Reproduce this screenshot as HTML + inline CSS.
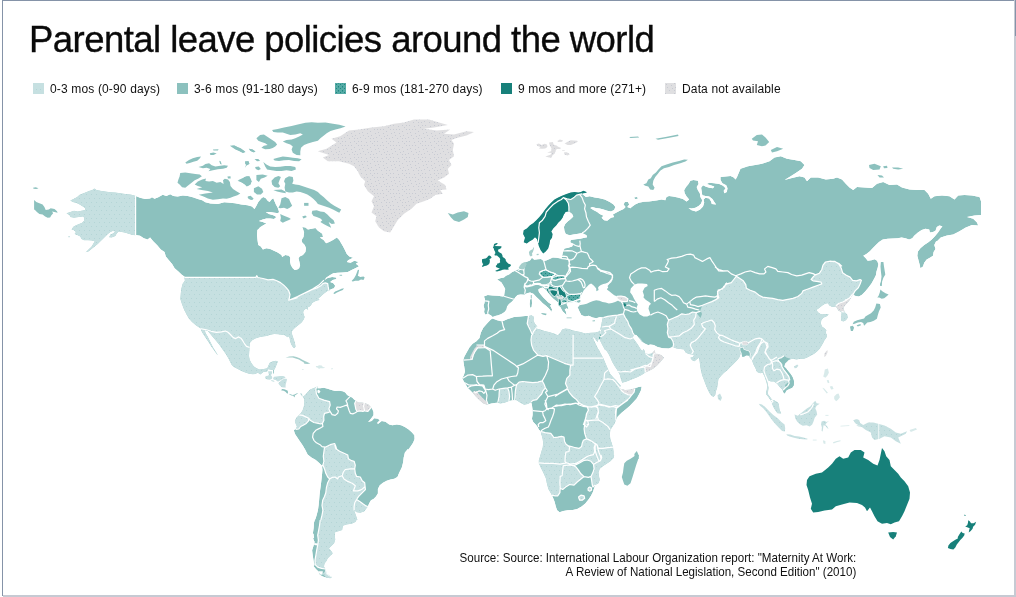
<!DOCTYPE html>
<html><head><meta charset="utf-8"><title>Parental leave policies around the world</title>
<style>
html,body{margin:0;padding:0;background:#fff;}
body{width:1016px;height:597px;position:relative;overflow:hidden;font-family:"Liberation Sans",sans-serif;color:#111;}
.bt{position:absolute;left:2px;top:0;width:1014px;height:1px;background:#8593a8;}
.bl{position:absolute;left:2px;top:0;width:1px;height:596px;background:#8593a8;}
.br{position:absolute;left:1014px;top:0;width:2px;height:597px;background:#c6cad3;}
.br2{position:absolute;left:1015px;top:0;width:1px;height:36px;background:#8593a8;}
.bb{position:absolute;left:3px;top:595px;width:1013px;height:2px;background:#c6cad3;}
h1{position:absolute;left:29px;top:18px;margin:0;font-weight:400;font-size:36.5px;line-height:44px;white-space:nowrap;color:#0a0a0a;letter-spacing:-0.55px;-webkit-text-stroke:0.35px #0a0a0a;}
.lg{position:absolute;top:83px;height:11px;font-size:12px;line-height:11px;white-space:nowrap;color:#111;letter-spacing:0.15px;}
.lg i{position:absolute;left:0;top:0;width:11px;height:11px;display:block;}
.lg span{position:absolute;left:17px;top:1px;}
.src{position:absolute;right:160px;top:551px;text-align:right;font-size:12.4px;line-height:14.3px;white-space:nowrap;color:#111;transform:scaleX(0.935);transform-origin:100% 50%;}
svg{position:absolute;left:0;top:0;}
</style></head><body>
<div class="bt"></div><div class="bl"></div><div class="br"></div><div class="br2"></div><div class="bb"></div>
<h1>Parental leave policies around the world</h1>
<svg width="1016" height="597" viewBox="0 0 1016 597">
<defs>
<pattern id="pd" width="4" height="4" patternUnits="userSpaceOnUse"><rect width="4" height="4" fill="#55aaa5"/><rect x="1" y="1" width="1" height="1" fill="#1f8880"/><rect x="3" y="3" width="1" height="1" fill="#1f8880"/></pattern>
<pattern id="pg" width="16" height="16" patternUnits="userSpaceOnUse"><rect width="16" height="16" fill="#dfdfe1"/><rect x="10" y="4" width="1" height="1" fill="#c8cbd3"/><rect x="12" y="1" width="1" height="1" fill="#c8cbd3"/><rect x="2" y="3" width="1" height="1" fill="#c8cbd3"/><rect x="6" y="1" width="1" height="1" fill="#c8cbd3"/><rect x="2" y="13" width="1" height="1" fill="#c8cbd3"/><rect x="3" y="7" width="1" height="1" fill="#c8cbd3"/><rect x="9" y="13" width="1" height="1" fill="#c8cbd3"/><rect x="13" y="10" width="1" height="1" fill="#c8cbd3"/><rect x="14" y="14" width="1" height="1" fill="#c8cbd3"/><rect x="7" y="5" width="1" height="1" fill="#c8cbd3"/><rect x="5" y="10" width="1" height="1" fill="#c8cbd3"/><rect x="4" y="15" width="1" height="1" fill="#c8cbd3"/><rect x="2" y="10" width="1" height="1" fill="#c8cbd3"/><rect x="15" y="1" width="1" height="1" fill="#c8cbd3"/><rect x="15" y="5" width="1" height="1" fill="#c8cbd3"/><rect x="8" y="9" width="1" height="1" fill="#c8cbd3"/><rect x="11" y="7" width="1" height="1" fill="#c8cbd3"/><rect x="0" y="8" width="1" height="1" fill="#c8cbd3"/><rect x="9" y="1" width="1" height="1" fill="#c8cbd3"/><rect x="6" y="13" width="1" height="1" fill="#c8cbd3"/></pattern>
<pattern id="pd2" x="335" y="83" width="4" height="4" patternUnits="userSpaceOnUse"><rect width="4" height="4" fill="#55aaa5"/><rect x="1" y="1" width="1" height="1" fill="#1f8880"/><rect x="3" y="3" width="1" height="1" fill="#1f8880"/><rect x="3" y="0" width="1" height="1" fill="#379a93"/></pattern>
<pattern id="pl" width="5" height="8" patternUnits="userSpaceOnUse"><rect width="5" height="8" fill="#c6e0e1"/><rect x="1" y="2" width="1" height="1" fill="#b4d5d6"/><rect x="4" y="6" width="1" height="1" fill="#b4d5d6"/></pattern>
</defs>
<clipPath id="c0"><path d="M135.3,195.7 130.5,194.4 125.5,194.1 120.4,193.2 115.4,192.6 110.4,192.3 105.4,191.6 100.3,190.7 96.6,190 94.3,188.5 92.2,190 89,191.1 85.9,192.3 82.8,193.6 79.6,194.8 77.1,197 74,198.8 70.2,200.4 72.7,202 76.5,202.9 79.6,204.5 82.8,206.4 85.3,208.3 85,209.9 81.5,210.8 77.7,211.4 74,210.8 70.2,212 66.4,213.3 69.6,215.2 70.2,217.1 74,217.7 79,217.1 82.8,216.4 84.3,217.7 84,220.8 82.1,222.7 79,224 75.9,225.2 73.3,226.7 71.5,229.6 74,230.2 75.9,232.1 74.6,234 77.7,235.3 80.2,236.5 81.5,239 84,240.3 87.8,240.3 91.6,240.5 94.7,241.3 93.4,243.4 91.6,246.6 89,249.1 86.5,251.4 85.3,252.2 88.4,251.4 91.6,249.1 94.7,246.6 97.8,244.1 100.3,241.6 102.9,239 105.4,236.5 107.9,234 110.4,232.1 112.9,230.9 115.4,231.5 112.9,233.4 110.4,234.6 109.1,237.2 111.7,237.5 115.4,235.9 116.7,233.4 118.6,231.5 121.7,232.1 125.5,232.8 129.2,234 133,235 135.3,235.3 135.7,235 140,235.7 143.8,238.2 147.6,239.4 150.1,237.6 153.2,241.3 157,245.1 160.8,249.5 164.5,252 165.8,256.4 168.9,260.2 172.1,263.9 174.6,268.3 178.4,271.5 181.5,274.6 184.6,276.8 184.4,277.3 184.8,280.7 182.6,283.8 181.3,288.8 180.7,293.9 180.3,298.9 181.9,303.9 183.8,308.9 186.3,314 188.8,318.4 192,322.1 195.8,325.3 199.5,327.8 201.4,329 200.7,328.8 201.9,331.9 203.8,335 206.3,338.8 208.8,342.6 211.3,346.4 213.8,350.1 217,354.5 217.9,355.1 215.7,351.4 213.2,347.6 211.3,343.8 209.4,340.1 207.6,336.3 205.7,333.2 204.8,330.3 207.6,330.7 210.1,333.8 213.2,337.6 216.4,341.3 219.5,345.1 222.6,349.5 225.8,353.9 228.3,358.3 230.2,362.1 231.4,364.6 233.9,367.1 237.7,369 241.5,370.9 245.2,372.5 249,373.7 252.8,374.2 255.3,374 257.8,372.7 260.3,374.6 263.5,372.1 267.2,371.5 268.1,369.2 272.9,370 273.9,370.5 275.4,367.7 276.7,364.6 277.9,361.4 276,360.8 272.3,361.4 269.7,362.7 268.5,365.2 267.2,368.3 263.5,369 259.7,369.6 256.6,368.3 254,366.5 251.5,363.3 249.6,359.5 249,355.8 249.3,351.4 249.6,347.4 249.8,342.9 252.3,340.3 255.4,338.5 259.2,337.2 263,336.6 266.7,335.9 270.5,334.7 274.3,334.1 278,334.3 281.8,334.7 284.9,335.3 287.5,337.2 289.3,335.9 288.6,335.7 289.6,338.2 290.1,341.3 291.1,344.3 292.6,346.8 294.1,348.3 295.6,346.8 295.1,343.8 294.1,340.3 293.1,337.2 292.1,334.2 291.6,331.7 293.1,329.7 295.1,327.7 297.6,325.7 300.2,323.7 302.2,321.7 303.7,319.6 304.7,317.1 303.7,314.6 303.2,312.1 304.2,310.1 306.2,308.6 308.2,310.1 307.7,307.6 309.7,306.6 311.2,305.1 312.2,303.1 314.7,301.6 317.2,300.6 319.7,300.1 318.2,298.5 320.3,297 322.3,295 324.8,293 326.8,291.5 328.8,290 327.1,292.7 328.3,290.8 328.9,291.2 330.8,289.2 334,288.3 335.2,285.8 333.3,283.3 330.2,282 332.7,280.1 336.5,279.1 335.9,277.6 332.1,277 327.7,277.9 324.5,280.1 326.4,277.6 330.2,275.1 333.3,273.2 337.7,272.8 342.8,272.6 347.8,272 351.6,270.1 355.3,268.2 359.1,266.3 355.9,263.8 358.5,261.9 354.4,260.8 350.6,262.7 346.8,262.1 348.1,260.2 353.1,257.7 349.3,256.4 346.8,253.9 344.9,250.1 343.1,246.4 341.2,243.2 339.3,240.1 336.8,237.6 333,240.1 329.2,242 326.1,243.2 323.6,240.1 319.8,237.6 323,236.9 322.3,233.8 317.9,230.7 315.4,228.1 311.7,228.8 307.9,229.4 305.4,227.5 302.2,226.9 302.9,228.8 304.1,232.5 303.5,236.9 301.6,240.1 302.2,242.6 304.7,245.1 306,248.2 305.4,252 302.9,255.1 299.7,256.4 298.5,258.3 299.3,261.4 300.1,265.2 299.1,268.3 297.2,269.6 294.7,270 292.8,268.3 290.9,265.2 290,261.4 290.3,257.7 289,255.8 285.3,255.1 282.1,257 281.5,255.1 277.7,252.6 274,250.8 270.2,248.9 266.4,248.2 262.9,249.5 260.8,246.4 258.3,245.1 257.6,240.7 257,235 257.4,230 258.6,229 260.1,227.2 263.3,225.3 266.4,223.4 262.7,222.1 258.9,220.9 262.7,219.6 266.4,218.4 270.2,218.4 274,219 276.5,217.1 273.3,215.2 268.9,214 265.8,212.1 270.2,212.1 274.6,212.7 278.4,213.3 279,211.5 277.7,207.7 275.9,204.5 274.6,201.4 273.3,198.3 271.5,199.5 269.6,202 267.7,200.8 265.8,198.3 263.3,197 261.4,198.3 258.3,202 256.4,205.8 254.5,208.9 252,206.4 247.6,205.2 241.3,204.5 235,203.3 230,202.7 224.2,202.2 217.9,204.1 210.4,203.5 205.4,202.2 202.2,200.3 197.8,199.1 192.8,197.2 187.8,195.9 182.8,195.6 177.7,196.6 173.3,195.9 170.2,194.3 166.4,195.9 162.7,194.7 158.3,197.2 154.5,198.8 152,197.2 150.1,198.5 145.1,199.1 140,197.8 135.7,195.9Z"/></clipPath>
<g clip-path="url(#c0)">
<path d="M135.3,195.7 130.5,194.4 125.5,194.1 120.4,193.2 115.4,192.6 110.4,192.3 105.4,191.6 100.3,190.7 96.6,190 94.3,188.5 92.2,190 89,191.1 85.9,192.3 82.8,193.6 79.6,194.8 77.1,197 74,198.8 70.2,200.4 72.7,202 76.5,202.9 79.6,204.5 82.8,206.4 85.3,208.3 85,209.9 81.5,210.8 77.7,211.4 74,210.8 70.2,212 66.4,213.3 69.6,215.2 70.2,217.1 74,217.7 79,217.1 82.8,216.4 84.3,217.7 84,220.8 82.1,222.7 79,224 75.9,225.2 73.3,226.7 71.5,229.6 74,230.2 75.9,232.1 74.6,234 77.7,235.3 80.2,236.5 81.5,239 84,240.3 87.8,240.3 91.6,240.5 94.7,241.3 93.4,243.4 91.6,246.6 89,249.1 86.5,251.4 85.3,252.2 88.4,251.4 91.6,249.1 94.7,246.6 97.8,244.1 100.3,241.6 102.9,239 105.4,236.5 107.9,234 110.4,232.1 112.9,230.9 115.4,231.5 112.9,233.4 110.4,234.6 109.1,237.2 111.7,237.5 115.4,235.9 116.7,233.4 118.6,231.5 121.7,232.1 125.5,232.8 129.2,234 133,235 135.3,235.3 135.7,235 140,235.7 143.8,238.2 147.6,239.4 150.1,237.6 153.2,241.3 157,245.1 160.8,249.5 164.5,252 165.8,256.4 168.9,260.2 172.1,263.9 174.6,268.3 178.4,271.5 181.5,274.6 184.6,276.8 184.4,277.3 184.8,280.7 182.6,283.8 181.3,288.8 180.7,293.9 180.3,298.9 181.9,303.9 183.8,308.9 186.3,314 188.8,318.4 192,322.1 195.8,325.3 199.5,327.8 201.4,329 200.7,328.8 201.9,331.9 203.8,335 206.3,338.8 208.8,342.6 211.3,346.4 213.8,350.1 217,354.5 217.9,355.1 215.7,351.4 213.2,347.6 211.3,343.8 209.4,340.1 207.6,336.3 205.7,333.2 204.8,330.3 207.6,330.7 210.1,333.8 213.2,337.6 216.4,341.3 219.5,345.1 222.6,349.5 225.8,353.9 228.3,358.3 230.2,362.1 231.4,364.6 233.9,367.1 237.7,369 241.5,370.9 245.2,372.5 249,373.7 252.8,374.2 255.3,374 257.8,372.7 260.3,374.6 263.5,372.1 267.2,371.5 268.1,369.2 272.9,370 273.9,370.5 275.4,367.7 276.7,364.6 277.9,361.4 276,360.8 272.3,361.4 269.7,362.7 268.5,365.2 267.2,368.3 263.5,369 259.7,369.6 256.6,368.3 254,366.5 251.5,363.3 249.6,359.5 249,355.8 249.3,351.4 249.6,347.4 249.8,342.9 252.3,340.3 255.4,338.5 259.2,337.2 263,336.6 266.7,335.9 270.5,334.7 274.3,334.1 278,334.3 281.8,334.7 284.9,335.3 287.5,337.2 289.3,335.9 288.6,335.7 289.6,338.2 290.1,341.3 291.1,344.3 292.6,346.8 294.1,348.3 295.6,346.8 295.1,343.8 294.1,340.3 293.1,337.2 292.1,334.2 291.6,331.7 293.1,329.7 295.1,327.7 297.6,325.7 300.2,323.7 302.2,321.7 303.7,319.6 304.7,317.1 303.7,314.6 303.2,312.1 304.2,310.1 306.2,308.6 308.2,310.1 307.7,307.6 309.7,306.6 311.2,305.1 312.2,303.1 314.7,301.6 317.2,300.6 319.7,300.1 318.2,298.5 320.3,297 322.3,295 324.8,293 326.8,291.5 328.8,290 327.1,292.7 328.3,290.8 328.9,291.2 330.8,289.2 334,288.3 335.2,285.8 333.3,283.3 330.2,282 332.7,280.1 336.5,279.1 335.9,277.6 332.1,277 327.7,277.9 324.5,280.1 326.4,277.6 330.2,275.1 333.3,273.2 337.7,272.8 342.8,272.6 347.8,272 351.6,270.1 355.3,268.2 359.1,266.3 355.9,263.8 358.5,261.9 354.4,260.8 350.6,262.7 346.8,262.1 348.1,260.2 353.1,257.7 349.3,256.4 346.8,253.9 344.9,250.1 343.1,246.4 341.2,243.2 339.3,240.1 336.8,237.6 333,240.1 329.2,242 326.1,243.2 323.6,240.1 319.8,237.6 323,236.9 322.3,233.8 317.9,230.7 315.4,228.1 311.7,228.8 307.9,229.4 305.4,227.5 302.2,226.9 302.9,228.8 304.1,232.5 303.5,236.9 301.6,240.1 302.2,242.6 304.7,245.1 306,248.2 305.4,252 302.9,255.1 299.7,256.4 298.5,258.3 299.3,261.4 300.1,265.2 299.1,268.3 297.2,269.6 294.7,270 292.8,268.3 290.9,265.2 290,261.4 290.3,257.7 289,255.8 285.3,255.1 282.1,257 281.5,255.1 277.7,252.6 274,250.8 270.2,248.9 266.4,248.2 262.9,249.5 260.8,246.4 258.3,245.1 257.6,240.7 257,235 257.4,230 258.6,229 260.1,227.2 263.3,225.3 266.4,223.4 262.7,222.1 258.9,220.9 262.7,219.6 266.4,218.4 270.2,218.4 274,219 276.5,217.1 273.3,215.2 268.9,214 265.8,212.1 270.2,212.1 274.6,212.7 278.4,213.3 279,211.5 277.7,207.7 275.9,204.5 274.6,201.4 273.3,198.3 271.5,199.5 269.6,202 267.7,200.8 265.8,198.3 263.3,197 261.4,198.3 258.3,202 256.4,205.8 254.5,208.9 252,206.4 247.6,205.2 241.3,204.5 235,203.3 230,202.7 224.2,202.2 217.9,204.1 210.4,203.5 205.4,202.2 202.2,200.3 197.8,199.1 192.8,197.2 187.8,195.9 182.8,195.6 177.7,196.6 173.3,195.9 170.2,194.3 166.4,195.9 162.7,194.7 158.3,197.2 154.5,198.8 152,197.2 150.1,198.5 145.1,199.1 140,197.8 135.7,195.9Z" fill="#8cc1be"/>
<path d="M182.6,277.3 256,277.3 256.7,275.7 257.9,277.5 263,278.5 268,279.8 273,279.4 276.8,280.7 280.5,282.6 283.7,285.1 286.2,287.6 288.7,290.7 290,294.5 289.3,298.3 288.7,300.1 292.5,299.1 297,297.9 297.5,296.5 305.1,292.9 312.6,289.5 317,287.9 320.8,285.8 322.9,283.6 325.2,282.9 327.7,283.6 328.1,286.4 328.7,289.5 329.2,291.7 420,300 420,420 150,420 150,277.3Z" fill="url(#pl)"/>
<path d="M20,150 135.6,150 135.6,260 20,260Z" fill="url(#pl)"/>
<path d="M182.6,277.3 256,277.3 256.7,275.7 257.9,277.5 263,278.5 268,279.8 273,279.4 276.8,280.7 280.5,282.6 283.7,285.1 286.2,287.6 288.7,290.7 290,294.5 289.3,298.3 288.7,300.1 292.5,299.1 297,297.9 297.5,296.5 305.1,292.9 312.6,289.5 317,287.9 320.8,285.8 322.9,283.6 325.2,282.9 327.7,283.6 328.1,286.4 328.7,289.5 329.2,291.7M200,328.5 206.3,329.8 211.3,331.3 216.4,332.3 221.4,331.9 225.8,331 228.3,332.5 230.8,335 233.3,337.6 235.8,338.6 238.3,336.9 240.9,338.2 242.7,340.7 244.6,343.8 246.5,346.4 250.3,347.6M135.6,190 135.6,240M290,299.7 297.5,296.6 305.1,292.8 312.6,289 318.9,285.1 323.9,280.1" fill="none" stroke="#fff" stroke-width="1.2" stroke-linejoin="round"/>
</g>
<clipPath id="c1"><path d="M302.6,397 305.1,395.1 307.6,392 310.1,389.4 313.2,388.2 316.4,386.9 318.3,385.7 317.4,388.2 320.1,388.2 323.9,387.8 327.7,388.8 331.5,390.1 335.2,391.1 339,390.7 342.8,391.3 345.3,392.6 347.2,395.1 349.7,396.4 352.2,397.4 354.1,399.5 355.9,400.8 358.5,402.4 362.2,402.6 365.4,403.3 368.5,404.5 370.4,406.4 372.3,408.9 373.5,412.1 373.5,415.2 371.7,417.7 369.1,420.9 367.9,422.1 371.7,420.9 374.2,418.3 377.9,418.7 379.8,420.2 377.3,422.7 377.9,424 381.7,420.9 385.5,421.7 389.2,424.6 392.4,425.2 396.8,424.6 401.2,425.2 404.9,427.1 408.7,429.6 411.8,432.2 414.4,435.3 414.6,439.1 413.1,442.8 410.6,446.6 408.1,450 408.1,448.8 404.9,452.5 403.7,457.6 403.1,462.6 401.8,467.6 399.3,472.6 397.4,477 394.3,478.7 390.5,479.5 386.7,480.8 383,482.7 379.8,485.2 377.9,489 377.9,493.4 376,496.5 373.5,499 371,500.3 369.1,503.4 367.9,506.6 366,509.1 364.1,511.6 360.3,512.8 356.6,512.2 354.1,510.3 355.3,513.5 356.6,517.2 357.2,520 357.3,518.8 355.4,521.9 351.7,523.8 346.6,524.4 342.9,525.7 342.2,530.1 338.5,531.3 335.3,532 334.7,535.7 335.3,539.5 334.1,543.3 331.6,545.8 329,548.3 331.6,551.4 332.8,553.3 330.3,555.8 327.8,558.3 326.5,560.9 324.6,563.4 324,566.5 325.3,569 325.9,570.3 326.5,573.4 329,575.3 332.2,577.2 330.3,578.2 326.5,577.8 322.8,576.6 319.6,574.7 318.4,571.5 315.9,569 313.7,566.5 314,563.4 313.3,559 312.7,555.2 312.1,550.2 313.3,546.4 314.6,542 312.7,537.6 313,532.6 313.7,527.6 314,522.5 315.2,518.8 315.1,520 316.6,515.3 317.9,510.3 318.6,505.3 319.1,500.3 319.5,495.2 320.1,490.2 320.8,485.2 321.4,480.2 322,475.1 322.4,470.1 322,465.7 319.5,463.2 315.8,460.1 311.4,457.6 307.6,454.4 305.1,449.4 302.6,445.3 300,441.6 297.5,437.8 295,434 293.8,430.3 295.7,429 296.9,426.5 295.7,424 294.8,420.9 296.3,417.7 298.8,415.2 300.7,413.3 302.6,410.2 303.8,406.4 304.4,402 303.8,398.2 301.9,395.7Z"/></clipPath>
<g clip-path="url(#c1)">
<path d="M302.6,397 305.1,395.1 307.6,392 310.1,389.4 313.2,388.2 316.4,386.9 318.3,385.7 317.4,388.2 320.1,388.2 323.9,387.8 327.7,388.8 331.5,390.1 335.2,391.1 339,390.7 342.8,391.3 345.3,392.6 347.2,395.1 349.7,396.4 352.2,397.4 354.1,399.5 355.9,400.8 358.5,402.4 362.2,402.6 365.4,403.3 368.5,404.5 370.4,406.4 372.3,408.9 373.5,412.1 373.5,415.2 371.7,417.7 369.1,420.9 367.9,422.1 371.7,420.9 374.2,418.3 377.9,418.7 379.8,420.2 377.3,422.7 377.9,424 381.7,420.9 385.5,421.7 389.2,424.6 392.4,425.2 396.8,424.6 401.2,425.2 404.9,427.1 408.7,429.6 411.8,432.2 414.4,435.3 414.6,439.1 413.1,442.8 410.6,446.6 408.1,450 408.1,448.8 404.9,452.5 403.7,457.6 403.1,462.6 401.8,467.6 399.3,472.6 397.4,477 394.3,478.7 390.5,479.5 386.7,480.8 383,482.7 379.8,485.2 377.9,489 377.9,493.4 376,496.5 373.5,499 371,500.3 369.1,503.4 367.9,506.6 366,509.1 364.1,511.6 360.3,512.8 356.6,512.2 354.1,510.3 355.3,513.5 356.6,517.2 357.2,520 357.3,518.8 355.4,521.9 351.7,523.8 346.6,524.4 342.9,525.7 342.2,530.1 338.5,531.3 335.3,532 334.7,535.7 335.3,539.5 334.1,543.3 331.6,545.8 329,548.3 331.6,551.4 332.8,553.3 330.3,555.8 327.8,558.3 326.5,560.9 324.6,563.4 324,566.5 325.3,569 325.9,570.3 326.5,573.4 329,575.3 332.2,577.2 330.3,578.2 326.5,577.8 322.8,576.6 319.6,574.7 318.4,571.5 315.9,569 313.7,566.5 314,563.4 313.3,559 312.7,555.2 312.1,550.2 313.3,546.4 314.6,542 312.7,537.6 313,532.6 313.7,527.6 314,522.5 315.2,518.8 315.1,520 316.6,515.3 317.9,510.3 318.6,505.3 319.1,500.3 319.5,495.2 320.1,490.2 320.8,485.2 321.4,480.2 322,475.1 322.4,470.1 322,465.7 319.5,463.2 315.8,460.1 311.4,457.6 307.6,454.4 305.1,449.4 302.6,445.3 300,441.6 297.5,437.8 295,434 293.8,430.3 295.7,429 296.9,426.5 295.7,424 294.8,420.9 296.3,417.7 298.8,415.2 300.7,413.3 302.6,410.2 303.8,406.4 304.4,402 303.8,398.2 301.9,395.7Z" fill="#8cc1be"/>
<path d="M318.3,385 315.8,388.8 316.4,393.8 318.9,398.2 323.9,400.1 329.6,401.6 330.2,405.1 328.9,408.9 330.2,411.7 327.7,412.7 324.5,413.3 323.7,416.5 323.9,420.2 322.4,423.4 320.8,424 318.3,423.4 313.9,422.5 310.1,420.2 308.8,418.3 308.6,420.9 306.3,423.4 303.2,425.2 300.7,426.5 298.8,429 295.7,429.3 291.3,430.3 291.3,387.6 318.3,382.5Z" fill="url(#pl)"/>
<path d="M324.9,446.9 324.5,447.5 323.9,451.9 323.3,456.3 323.9,461.3 322.9,465.1 324.5,468.9 325.8,473.3 327.7,477 329.6,478.9 327.7,482.7 326.4,487.7 325.8,492.7 324.5,496.5 322.7,500.3 322,505.3 322.9,510.3 322,515.3 320.8,520 320.2,520 319.6,525 318.7,530.1 317.7,535.1 318.4,540.1 317.7,545.1 316.7,550.2 315.9,555.2 315,560.2 315.2,564.6 317.7,567.1 321.5,568.4 325.3,569 325.3,570.9 322.8,574 326.5,577.8 332.8,580.3 370.5,580.3 370.5,520 370.4,510.3 368.1,506.8 366,505.9 362.9,503.8 359.7,501.5 356.6,499.6 357.2,498.4 359.7,495.2 362.9,492.1 365.4,489.6 365.1,486.5 364.7,482.7 362.2,480.8 360.3,477 356.6,476.4 355.3,473.3 354.7,468.9 355.3,465.1 354.1,461.3 351.6,460.7 348.4,458.8 347.8,455 344,453.2 339.6,451.3 335.9,448.8 334.6,445 334.6,443.5 330.2,444.7 325.2,447.2Z" fill="url(#pl)"/>
<path d="M355.9,400.8 354.7,403.3 355.3,406.4 355.9,409.5 357.2,411.4 360.3,410.8 362.9,411.4 364.7,410.8 363.5,406.4 364.1,403.3 364.1,400.1 357.8,399.5Z" fill="url(#pg)"/>
<path d="M364.1,403.3 363.5,406.4 364.7,410.8 367.9,411.4 370.4,408.3 372.3,407 372.9,403.9 367.9,402 364.1,400.8Z" fill="url(#pg)"/>
<path d="M318.3,385 315.8,388.8 316.4,393.8 318.9,398.2 323.9,400.1 329.6,401.6 330.2,405.1 328.9,408.9 330.2,411.7 327.7,412.7 324.5,413.3 323.7,416.5 323.9,420.2 322.4,423.4 320.8,424 318.3,423.4 313.9,422.5 310.1,420.2 308.8,418.3 306.3,417.1 302.6,415.4 298.8,414.9M308.8,418.3 308.6,420.9 306.3,423.4 303.2,425.2 300.7,426.5 298.8,429 295.7,429.3M322.4,423.4 322.9,426.5 319.5,428.4 315.8,430.3 313.2,433.4 312.6,437.2 313.9,440.3 316.4,442.8 320.1,444.7 322,446.6 325.2,447.2 330.2,444.7 334.6,443.5 335.9,446.6 336.7,449.1M330.2,411.7 332.1,414.6 335.2,415.4 337.7,413.3 338.4,410.8 336.5,408.9 337.1,407 340.2,407.4 343.4,406.2 346.5,405.1 348,407 349,410.2 350.3,413.3 352.8,413.9 355.3,412.7 357.2,411.4 360.3,410.8 362.9,411.4 364.7,410.8 367.9,411.4 370.4,408.3 371.7,406.7M348,407 347.2,403.3 345.9,400.8 347.8,398.9 350,396.6M356.2,400.5 354.7,403.3 355.3,406.4 355.9,409.5 357.2,411.4M364.4,402.9 363.5,406.4 364.7,410.8M324.9,446.9 324.5,447.5 323.9,451.9 323.3,456.3 323.9,461.3 322.9,465.1 321.4,465.9M322.9,465.1 324.5,468.9 325.8,473.3 327.7,477 329.6,478.9 327.7,482.7 326.4,487.7 325.8,492.7 324.5,496.5 322.7,500.3 322,505.3 322.9,510.3 322,515.3 320.8,520M320.2,520 319.6,525 318.7,530.1 317.7,535.1 318.4,540.1 317.7,545.1 316.7,550.2 315.9,555.2 315,560.2 315.2,564.6 317.7,567.1 321.5,568.4 325.3,569 325.9,570.3 326.5,573.4 329,575.3 332.2,577.2M334.6,445 335.9,448.8 339.6,451.3 344,453.2 347.8,455 348.4,458.8 351.6,460.7 354.1,461.3 355.3,465.1 354.7,468.9 355.3,473.3 356.6,476.4 360.3,477 362.2,480.8 364.7,482.7 365.1,486.5 365.4,489.6 362.9,492.1 359.7,495.2 357.2,498.4 356.6,499.6 359.7,501.5 362.9,503.8 366,505.9 368.1,506.8M354.7,468.9 350.3,468.9 345.3,469.5 343.4,472 342.1,475.8 338.4,477 337.7,478.9 335.2,477 332.1,477.4 329.6,478.9M342.1,475.8 344,478.9 347.8,481.4 352.2,483.3 355.3,485.8 354.1,489 353.4,490.9 357.8,490.9 361.6,489.6 365.1,486.5M356.6,499.6 354.7,502.8 354.1,506.6 354.1,510.6" fill="none" stroke="#fff" stroke-width="1.2" stroke-linejoin="round"/>
</g>
<clipPath id="c2"><path d="M526.8,243.4 523.7,242.2 525,237.8 523.1,234 523.7,230.2 526.8,228.4 530,225.2 533.1,223.3 536.3,220.2 539.4,217.1 542.5,213.3 545.1,209.5 548.2,205.8 551.3,202.6 554.5,199.5 558.2,197.6 562,195.7 566.4,194.1 570.8,192.6 574.6,191.9 578.3,192.6 580.9,191.9 583.4,190.7 587.1,192.3 584.6,193.2 582.1,193.8 585.9,197 589.7,196.3 594.7,197.6 599.7,198.2 604.7,199.5 609.8,202 613.5,204.5 615.4,207 614.1,210.1 611,211.4 607.2,210.8 603.5,209.5 599.7,208.6 595.9,207.9 592.2,207 590.3,207.9 593.4,210.1 597.2,212 599.7,213.9 603.5,215.8 601.6,217.7 604.1,220.2 607.2,220.8 611,217.7 614.1,217.1 612.9,214.5 616,212.7 619.8,210.8 623.6,208.9 625.5,207 623.6,204.5 624.8,202 628,202 629.2,204.5 627.3,207 630.5,208.3 631.4,207.2 635.1,204.6 638.9,202.8 643.9,201.8 648.9,201.5 652.7,200.9 657.7,200.2 661.5,199.6 665.3,200.2 666.5,197.1 669,195.9 672.8,196.5 677.8,197.5 682.9,199 686.6,201.5 689.1,199.6 686.6,196.5 684.7,193.3 684.1,190.2 686,187.1 688.5,183.9 690.4,180.8 693.5,180.1 697.9,180.8 698.6,183.9 696.7,187.1 697.9,190.2 699.8,193.3 700.4,197.1 702.3,200.2 701.1,203.4 698.6,205.9 695.4,207.8 691.7,208.4 688.5,208 691.7,210.3 696,211.6 699.8,209.7 703,206.5 704.2,202.8 703.6,199.6 705.5,197.7 709.2,198.4 711.1,201.5 711.8,204 716.1,204.6 714.3,202.1 712.4,199 709.2,196.5 705.5,195.9 702.3,195.2 701.7,191.5 701.1,187.7 703,185.2 705.5,186.4 709.2,187.7 713,188.3 714.3,186.4 710.5,185.2 706.7,183.9 709.2,182.7 714.3,183.3 719.3,183.9 723.1,185.8 725.6,188.3 723.7,190.8 724.3,193.3 726.8,192.1 727.5,188.3 726.2,185.2 722.4,183.3 720.5,180.1 720.5,177 725.6,176.4 730.6,176.1 733.7,177.6 735.6,179.5 737,177 740.5,168.8 748,166.2 758,164.5 762,163.8 762,163.8 769.5,161.2 774.5,157.5 780.8,156.2 787,158.8 794.5,160 800.8,161.2 804.5,165 802,168.8 795.8,173 789.5,177 784.5,180 792,178 799.5,176.2 804.5,177.5 807,181.2 810.8,177.5 818.2,177.5 825.8,179.5 833.2,178.8 837,177.5 842,179.5 845.8,183.8 849.5,187.5 853.2,190 857,187 864.5,187.5 872,188 877,183.8 883.2,182 889.5,185 897,184.5 902,187.5 909.5,189.5 917,190 924.5,190 928.2,193.8 930.8,198.8 934.5,196.2 942,195.5 949.5,196.2 954.5,199.5 958.2,195.5 964.5,195 972,195.5 979.5,197 981,201.2 981,215 974.5,215.5 967,217 973.2,218.8 977,222.5 978.2,225.5 972,225 965.8,227.5 959.5,231.2 953.2,234.5 947,235.5 940.8,237.5 937,241.2 936.1,241.3 934.3,245.1 935.5,248.9 933.6,252 933,255.8 929.9,257.7 926.7,259.5 924.2,262.7 923,266.5 920.4,268.3 919.8,265.2 918.6,260.8 917.3,255.8 917.9,251.4 920.4,248.2 924.2,245.1 928,242.6 931.8,239.4 934.9,236.3 938,232.5 940.5,228.8 942.4,226.3 939.3,225.6 936.8,226.9 935.5,230.7 933,231.9 929.9,232.5 929.2,229.4 925.5,228.8 921.7,230 917.9,232.5 914.2,235.7 912.3,238.2 909.1,239.4 905.4,238.2 901.6,237.6 897.8,238.2 892.8,238.6 887.8,238.8 882.8,239.4 879,242 875.9,245.1 872.7,248.2 869.6,251.4 866.4,253.9 863.3,255.8 865.8,258.3 867.7,260.8 871.5,260.2 874.6,259.2 877.1,260.8 878.4,263.9 877.7,267.7 876.5,271.5 875.9,275.2 874,279 871.5,283.4 868.3,287.8 865.2,291.6 862,294.7 858.9,296.6 855.1,296 853.2,294.1 851.6,296.3 850,299.4 847.8,302.6 845.3,305.1 843.4,307.6 844,310.1 844.6,312 847.2,314.5 847.8,317.7 845.9,320.2 843.4,321.4 841.3,320.8 840.9,317.7 841.5,315.1 841.5,312 838.4,310.8 837.1,308.2 835.9,306.4 832.7,307 829.6,305.7 827.7,303.2 825.2,303.8 822,305.7 818.9,308.2 816.4,310.1 818.3,312.6 821.4,314.5 825.2,313.9 828.9,314.5 826.4,316.4 823.3,317.7 821.4,320.2 820.8,323.3 822,326.5 824.5,328.3 826.4,330.2 825.8,332.7 827.1,335.2 826.4,337.8 824.5,340.3 823.3,342.8 821.4,345.9 819.5,349.1 817,351.6 813.9,354.1 810.1,356 806.3,357.9 802.6,359.1 800.3,358.8 796.5,359.5 792.8,358.8 789.6,359.5 789,359.5 787.1,361.4 785.2,363.2 784,366.4 785.9,368.3 788.4,371.4 790.9,374.5 792.8,377.7 794,381.5 793.8,385.2 792.1,387.7 789,389 786.5,390.2 784.6,393.4 783.3,392.1 782.1,389.2 779.6,387.1 777.7,384.6 776.4,383.3 773.9,381.5 770.8,381.5 768.3,380.2 767.6,383.3 768.6,387.7 768.1,391.5 767.9,394 769.6,396.3 771.4,398.8 772.9,400.5 773.9,400 775.7,401.3 777.7,402.2 778.9,404.3 779.2,407.2 779.6,409.7 780.4,411.6 781.2,413.4 777.4,413.2 775.4,410.6 773.9,408.1 772.7,405.6 771.9,403.3 771.2,401.3 769.6,398.8 767.9,396.5 766.4,394.6 766.1,392.1 766.8,389.6 767.1,387.1 766.9,384 765.8,380.2 764.5,376.4 762.6,372.7 760.1,373.3 757,372 755.1,367.6 753.2,363.9 751.9,360.1 749.9,357.7 749.2,355.8 746.7,355.2 744.2,356.4 742.3,357.1 741.1,352 740.4,354.5 739.2,357.7 736.7,360.8 733.5,364 730.4,367.1 727.3,370.2 724.1,372.8 721,375.9 718.5,379 717.8,383.4 717.2,387.8 715.9,391.6 715.3,395 713.4,396.9 711.3,395.4 709.7,393.5 707.8,389.7 705.9,385.3 704,380.3 702.1,375.3 700.9,370.2 700.2,365.9 699.6,361.5 699,357.7 697.1,358.9 694.6,361.2 692.1,360.2 690.2,357.7 692.7,357.1 694,355.2 691.5,354.5 688.9,353.9 685.8,352.7 683.9,349.5 680.1,349.1 676.4,348.6 672.6,347 668.8,348.6 662.6,348.3 657.5,347 653.8,345.1 650,344.5 648.5,345.2 644.7,343.4 641.6,341.5 639.1,338.3 636.6,335.2 634,334.6 632.8,337.7 635.3,340.9 637.8,344.6 640.3,348.4 642.2,350.9 643.5,349 644.7,350.9 645.3,353.4 648.5,354 651.6,353.4 653.5,351.5 654.8,350.3 655.4,353.4 658.5,354 661.7,355.3 663.9,357.8 662.4,359.4 659.9,362.6 656.8,365.7 653,368.8 649.2,370.7 645.4,372.6 641.7,375.1 636.7,377.6 631.6,379.5 626.6,381.4 622.2,382.7 620.9,378.9 619.7,374.5 617.2,370.1 614.7,366.3 612.2,361.9 610.3,357.5 608.4,353.8 605.9,350 605.1,350.3 602,344.6 599.5,339.6 597.6,336.5 598.9,333.3 600.1,329.5 601.1,325.8 601.8,322 602.6,318.2 603.3,317.4 600.1,317 596.4,318.2 592.6,317.6 588.8,315.7 585,316.4 581.3,315.1 579.4,311.3 577.5,306.9 578.5,306.4 580.4,303.2 577.3,302.6 574.7,302 571.6,302.6 568.5,302.6 566.6,303.9 567.8,306.4 568.5,309.5 566.6,308.3 564.7,309.5 565.9,311.4 566.6,315.2 564.7,313.3 562.8,311.4 561.6,309.5 560.3,307 558.4,305.8 558,302.6 555.9,300.7 553.4,298.8 550.9,296.3 548.4,293.2 545.9,290 542.7,287.5 540.2,288.2 538.3,289.4 538.9,291.9 540.8,294.4 543.3,297.6 545.9,300.1 548.4,302.6 551.5,304.5 550.2,305.8 552.1,309.5 551.3,312 550.2,310.1 548.4,307.9 545.9,305.8 542.7,303.2 539.6,300.1 536.4,297 533.3,293.8 530.1,292.6 527,293.2 524.5,294.8 520.7,294.4 517.6,295.1 515.1,297.6 514,299.5 511.5,302.1 509,303.9 507.1,306.5 506.5,309.6 504.6,312.1 501.5,314 498.3,315.2 495.2,315.9 492.7,317.1 490.8,315.2 488.3,314 485.1,314.6 484.1,312.1 484.5,309 483.6,305.8 484.5,302.7 485.1,299.5 483.9,296.4 487.7,295.1 492.7,295.4 497.7,295.8 502.7,296.4 504,296.2 504.6,292 505.2,288.9 503.4,285.7 501.5,282.6 499,280.7 497.1,279.4 500.2,278.2 504,277.6 505.9,275.7 509,274.4 512.2,271.9 515.3,270.7 519.1,268.8 521.6,266.3 523.5,265 522.9,262.9 525.2,262.5 526.8,261.7 530,260.5 531.9,257.8 534.3,259.7 537.8,259.3 541,258.9 543.7,260.9 546.1,260.5 549.6,258.9 552.8,257.4 556.7,257.8 560.7,258.5 561.6,258 562.2,255.8 562.6,253.4 563.3,251.6 564.5,248.5 568.3,247.8 572.1,246.6 573.3,244.1 570.2,242.2 570.8,240 575.8,239.3 580.2,238.8 583.4,238 587.1,237.2 586.5,235.3 582.1,233 578.3,233.8 573.3,234.6 569.6,235.3 565.8,234 564.5,230.9 563.9,227.1 565.2,224 567.7,221.5 570.8,218.9 573.3,216.4 572.1,213.9 568.9,211.4 565.8,212 563.9,214.5 562.6,217.7 560.8,220.2 558.2,222.7 556.4,225.2 553.2,228.4 551.3,231.5 552.6,234 552,237.8 550.1,240.3 549.5,244.1 548.2,248.5 545.7,251.6 543.2,253.5 540.7,250.3 538.8,245.9 538.1,242.8 536.9,239 535,237.2 532.5,239.7 529.4,241.6Z"/></clipPath>
<g clip-path="url(#c2)">
<path d="M526.8,243.4 523.7,242.2 525,237.8 523.1,234 523.7,230.2 526.8,228.4 530,225.2 533.1,223.3 536.3,220.2 539.4,217.1 542.5,213.3 545.1,209.5 548.2,205.8 551.3,202.6 554.5,199.5 558.2,197.6 562,195.7 566.4,194.1 570.8,192.6 574.6,191.9 578.3,192.6 580.9,191.9 583.4,190.7 587.1,192.3 584.6,193.2 582.1,193.8 585.9,197 589.7,196.3 594.7,197.6 599.7,198.2 604.7,199.5 609.8,202 613.5,204.5 615.4,207 614.1,210.1 611,211.4 607.2,210.8 603.5,209.5 599.7,208.6 595.9,207.9 592.2,207 590.3,207.9 593.4,210.1 597.2,212 599.7,213.9 603.5,215.8 601.6,217.7 604.1,220.2 607.2,220.8 611,217.7 614.1,217.1 612.9,214.5 616,212.7 619.8,210.8 623.6,208.9 625.5,207 623.6,204.5 624.8,202 628,202 629.2,204.5 627.3,207 630.5,208.3 631.4,207.2 635.1,204.6 638.9,202.8 643.9,201.8 648.9,201.5 652.7,200.9 657.7,200.2 661.5,199.6 665.3,200.2 666.5,197.1 669,195.9 672.8,196.5 677.8,197.5 682.9,199 686.6,201.5 689.1,199.6 686.6,196.5 684.7,193.3 684.1,190.2 686,187.1 688.5,183.9 690.4,180.8 693.5,180.1 697.9,180.8 698.6,183.9 696.7,187.1 697.9,190.2 699.8,193.3 700.4,197.1 702.3,200.2 701.1,203.4 698.6,205.9 695.4,207.8 691.7,208.4 688.5,208 691.7,210.3 696,211.6 699.8,209.7 703,206.5 704.2,202.8 703.6,199.6 705.5,197.7 709.2,198.4 711.1,201.5 711.8,204 716.1,204.6 714.3,202.1 712.4,199 709.2,196.5 705.5,195.9 702.3,195.2 701.7,191.5 701.1,187.7 703,185.2 705.5,186.4 709.2,187.7 713,188.3 714.3,186.4 710.5,185.2 706.7,183.9 709.2,182.7 714.3,183.3 719.3,183.9 723.1,185.8 725.6,188.3 723.7,190.8 724.3,193.3 726.8,192.1 727.5,188.3 726.2,185.2 722.4,183.3 720.5,180.1 720.5,177 725.6,176.4 730.6,176.1 733.7,177.6 735.6,179.5 737,177 740.5,168.8 748,166.2 758,164.5 762,163.8 762,163.8 769.5,161.2 774.5,157.5 780.8,156.2 787,158.8 794.5,160 800.8,161.2 804.5,165 802,168.8 795.8,173 789.5,177 784.5,180 792,178 799.5,176.2 804.5,177.5 807,181.2 810.8,177.5 818.2,177.5 825.8,179.5 833.2,178.8 837,177.5 842,179.5 845.8,183.8 849.5,187.5 853.2,190 857,187 864.5,187.5 872,188 877,183.8 883.2,182 889.5,185 897,184.5 902,187.5 909.5,189.5 917,190 924.5,190 928.2,193.8 930.8,198.8 934.5,196.2 942,195.5 949.5,196.2 954.5,199.5 958.2,195.5 964.5,195 972,195.5 979.5,197 981,201.2 981,215 974.5,215.5 967,217 973.2,218.8 977,222.5 978.2,225.5 972,225 965.8,227.5 959.5,231.2 953.2,234.5 947,235.5 940.8,237.5 937,241.2 936.1,241.3 934.3,245.1 935.5,248.9 933.6,252 933,255.8 929.9,257.7 926.7,259.5 924.2,262.7 923,266.5 920.4,268.3 919.8,265.2 918.6,260.8 917.3,255.8 917.9,251.4 920.4,248.2 924.2,245.1 928,242.6 931.8,239.4 934.9,236.3 938,232.5 940.5,228.8 942.4,226.3 939.3,225.6 936.8,226.9 935.5,230.7 933,231.9 929.9,232.5 929.2,229.4 925.5,228.8 921.7,230 917.9,232.5 914.2,235.7 912.3,238.2 909.1,239.4 905.4,238.2 901.6,237.6 897.8,238.2 892.8,238.6 887.8,238.8 882.8,239.4 879,242 875.9,245.1 872.7,248.2 869.6,251.4 866.4,253.9 863.3,255.8 865.8,258.3 867.7,260.8 871.5,260.2 874.6,259.2 877.1,260.8 878.4,263.9 877.7,267.7 876.5,271.5 875.9,275.2 874,279 871.5,283.4 868.3,287.8 865.2,291.6 862,294.7 858.9,296.6 855.1,296 853.2,294.1 851.6,296.3 850,299.4 847.8,302.6 845.3,305.1 843.4,307.6 844,310.1 844.6,312 847.2,314.5 847.8,317.7 845.9,320.2 843.4,321.4 841.3,320.8 840.9,317.7 841.5,315.1 841.5,312 838.4,310.8 837.1,308.2 835.9,306.4 832.7,307 829.6,305.7 827.7,303.2 825.2,303.8 822,305.7 818.9,308.2 816.4,310.1 818.3,312.6 821.4,314.5 825.2,313.9 828.9,314.5 826.4,316.4 823.3,317.7 821.4,320.2 820.8,323.3 822,326.5 824.5,328.3 826.4,330.2 825.8,332.7 827.1,335.2 826.4,337.8 824.5,340.3 823.3,342.8 821.4,345.9 819.5,349.1 817,351.6 813.9,354.1 810.1,356 806.3,357.9 802.6,359.1 800.3,358.8 796.5,359.5 792.8,358.8 789.6,359.5 789,359.5 787.1,361.4 785.2,363.2 784,366.4 785.9,368.3 788.4,371.4 790.9,374.5 792.8,377.7 794,381.5 793.8,385.2 792.1,387.7 789,389 786.5,390.2 784.6,393.4 783.3,392.1 782.1,389.2 779.6,387.1 777.7,384.6 776.4,383.3 773.9,381.5 770.8,381.5 768.3,380.2 767.6,383.3 768.6,387.7 768.1,391.5 767.9,394 769.6,396.3 771.4,398.8 772.9,400.5 773.9,400 775.7,401.3 777.7,402.2 778.9,404.3 779.2,407.2 779.6,409.7 780.4,411.6 781.2,413.4 777.4,413.2 775.4,410.6 773.9,408.1 772.7,405.6 771.9,403.3 771.2,401.3 769.6,398.8 767.9,396.5 766.4,394.6 766.1,392.1 766.8,389.6 767.1,387.1 766.9,384 765.8,380.2 764.5,376.4 762.6,372.7 760.1,373.3 757,372 755.1,367.6 753.2,363.9 751.9,360.1 749.9,357.7 749.2,355.8 746.7,355.2 744.2,356.4 742.3,357.1 741.1,352 740.4,354.5 739.2,357.7 736.7,360.8 733.5,364 730.4,367.1 727.3,370.2 724.1,372.8 721,375.9 718.5,379 717.8,383.4 717.2,387.8 715.9,391.6 715.3,395 713.4,396.9 711.3,395.4 709.7,393.5 707.8,389.7 705.9,385.3 704,380.3 702.1,375.3 700.9,370.2 700.2,365.9 699.6,361.5 699,357.7 697.1,358.9 694.6,361.2 692.1,360.2 690.2,357.7 692.7,357.1 694,355.2 691.5,354.5 688.9,353.9 685.8,352.7 683.9,349.5 680.1,349.1 676.4,348.6 672.6,347 668.8,348.6 662.6,348.3 657.5,347 653.8,345.1 650,344.5 648.5,345.2 644.7,343.4 641.6,341.5 639.1,338.3 636.6,335.2 634,334.6 632.8,337.7 635.3,340.9 637.8,344.6 640.3,348.4 642.2,350.9 643.5,349 644.7,350.9 645.3,353.4 648.5,354 651.6,353.4 653.5,351.5 654.8,350.3 655.4,353.4 658.5,354 661.7,355.3 663.9,357.8 662.4,359.4 659.9,362.6 656.8,365.7 653,368.8 649.2,370.7 645.4,372.6 641.7,375.1 636.7,377.6 631.6,379.5 626.6,381.4 622.2,382.7 620.9,378.9 619.7,374.5 617.2,370.1 614.7,366.3 612.2,361.9 610.3,357.5 608.4,353.8 605.9,350 605.1,350.3 602,344.6 599.5,339.6 597.6,336.5 598.9,333.3 600.1,329.5 601.1,325.8 601.8,322 602.6,318.2 603.3,317.4 600.1,317 596.4,318.2 592.6,317.6 588.8,315.7 585,316.4 581.3,315.1 579.4,311.3 577.5,306.9 578.5,306.4 580.4,303.2 577.3,302.6 574.7,302 571.6,302.6 568.5,302.6 566.6,303.9 567.8,306.4 568.5,309.5 566.6,308.3 564.7,309.5 565.9,311.4 566.6,315.2 564.7,313.3 562.8,311.4 561.6,309.5 560.3,307 558.4,305.8 558,302.6 555.9,300.7 553.4,298.8 550.9,296.3 548.4,293.2 545.9,290 542.7,287.5 540.2,288.2 538.3,289.4 538.9,291.9 540.8,294.4 543.3,297.6 545.9,300.1 548.4,302.6 551.5,304.5 550.2,305.8 552.1,309.5 551.3,312 550.2,310.1 548.4,307.9 545.9,305.8 542.7,303.2 539.6,300.1 536.4,297 533.3,293.8 530.1,292.6 527,293.2 524.5,294.8 520.7,294.4 517.6,295.1 515.1,297.6 514,299.5 511.5,302.1 509,303.9 507.1,306.5 506.5,309.6 504.6,312.1 501.5,314 498.3,315.2 495.2,315.9 492.7,317.1 490.8,315.2 488.3,314 485.1,314.6 484.1,312.1 484.5,309 483.6,305.8 484.5,302.7 485.1,299.5 483.9,296.4 487.7,295.1 492.7,295.4 497.7,295.8 502.7,296.4 504,296.2 504.6,292 505.2,288.9 503.4,285.7 501.5,282.6 499,280.7 497.1,279.4 500.2,278.2 504,277.6 505.9,275.7 509,274.4 512.2,271.9 515.3,270.7 519.1,268.8 521.6,266.3 523.5,265 522.9,262.9 525.2,262.5 526.8,261.7 530,260.5 531.9,257.8 534.3,259.7 537.8,259.3 541,258.9 543.7,260.9 546.1,260.5 549.6,258.9 552.8,257.4 556.7,257.8 560.7,258.5 561.6,258 562.2,255.8 562.6,253.4 563.3,251.6 564.5,248.5 568.3,247.8 572.1,246.6 573.3,244.1 570.2,242.2 570.8,240 575.8,239.3 580.2,238.8 583.4,238 587.1,237.2 586.5,235.3 582.1,233 578.3,233.8 573.3,234.6 569.6,235.3 565.8,234 564.5,230.9 563.9,227.1 565.2,224 567.7,221.5 570.8,218.9 573.3,216.4 572.1,213.9 568.9,211.4 565.8,212 563.9,214.5 562.6,217.7 560.8,220.2 558.2,222.7 556.4,225.2 553.2,228.4 551.3,231.5 552.6,234 552,237.8 550.1,240.3 549.5,244.1 548.2,248.5 545.7,251.6 543.2,253.5 540.7,250.3 538.8,245.9 538.1,242.8 536.9,239 535,237.2 532.5,239.7 529.4,241.6Z" fill="#8cc1be"/>
<path d="M582.1,193.8 579.6,194.4 576.5,195.1 573.9,197.6 570.8,199.5 567,198.8 563.3,197.6 566.4,200.1 568.3,203.2 568.9,207 568.9,211.4 565.8,212 545.7,255.4 520.6,255.4 515.5,230.2 545.7,192.6 583.4,187.5 588.4,192.6Z" fill="#17807a"/>
<path d="M852.8,293.8 855.1,290.9 858.3,287.8 860.1,284 861.4,280.3 860.1,279.6 856.4,280.9 852.6,280.3 850.1,277.1 846.3,275.2 842.6,272.7 841.3,268.3 838.8,263.9 835,261.4 830,261.4 839.4,263.8 835.6,262 830.6,261.1 825.5,262 823,265.1 821.8,269.5 819.3,273.3 815.5,274.9 813.6,276.4 811.1,279.5 813,280.8 816.8,281.4 821.1,282.1 821.8,283.9 818,285.2 813,287.1 808,289 802.9,290.9 801.7,293.4 797.9,296.5 792.9,298.4 787.9,299.3 782.8,300.3 777.8,299.6 772.8,298.4 767.8,297.8 762.7,297.1 759,295.2 755.2,292.1 750.2,290.2 746.4,288.3 745.8,284.6 743.3,280.8 739.5,278.3 736.4,276.2 733.8,279.5 731.3,282.7 726.9,283.9 723.8,286.5 722.5,289 718.1,290.2 717.5,294 718.8,297.8 715,300.3 711.8,301.6 706.8,303.5 702.4,305.3 700.5,310 702,314 700.5,318 696.2,312.6 692.5,312 689.3,313.8 685.5,314.5 681.8,313.8 677.4,316.4 673,318.2 668.6,320.1 667.3,324.5 668,328.9 667.3,332.7 668.6,337.1 671.1,338.3 673,341.5 673.6,344.6 672.4,348.8 672,356 700,402 716,402 738,372 750,370 760,400 778,418 792,412 785,385 800,372 830,356 856,330 856,296Z" fill="url(#pl)"/>
<path d="M603.3,317.6 607.7,316.4 612.7,315.7 617.7,315.1 623.4,313.8 625.2,317.6 627.8,321.4 629,325.1 631.5,328.9 632.8,332.7 634,334.6 640,338 650,352 668,358 655,385 620,385 600,345 597,335 598,318Z" fill="url(#pl)"/>
<path d="M777.7,358.8 781.5,357.6 784,355.7 786.5,357.6 790.2,358.8 790.2,361.4 795.3,377.7 795.9,386.5 785.2,395.3 782.1,392.1 784,389.6 787.1,387.7 789.6,385.9 790.9,382.7 790.2,378.9 789,375.8 786.5,372.7 784,369.5 782.1,367 782.7,364.5 780.8,362.6 778.9,360.7Z" fill="#8cc1be"/>
<path d="M740.2,348.3 743,347.6 743.6,349.5 746.7,350.8 749.2,351.4 749.9,353.9 749.5,357.7 745.5,358.3 742.3,357.7 741.5,353.3 740.4,350.8Z" fill="#8cc1be" stroke="#fff" stroke-width="1.3" stroke-linejoin="round" paint-order="stroke"/>
<path d="M835.9,305.7 839,303.2 842.8,302 846.5,300.1 849.7,297.6 852.8,293.8 855.3,297.6 847.8,303.8 845.3,307 844.6,312 841.5,311.6 838.4,310.8 837.1,308.2 835.2,307Z" fill="url(#pg)"/>
<path d="M742.1,342.1 745.5,341.4 748.4,342.7 747,344.7 742.7,344.7Z" fill="url(#pg)" stroke="#fff" stroke-width="1" stroke-linejoin="round" paint-order="stroke"/>
<path d="M653.5,354 656.7,353.4 661.7,352 668,358 664,362 658,368 650,373 645.5,374 644.8,367 648,365.1 651.7,362.6 653,358.8Z" fill="url(#pg)"/>
<path d="M652.5,350 656,350 656,354 652.5,354Z" fill="url(#pg)"/>
<path d="M616.8,296.4 620.9,296 625.2,296.9 628,298.9 627.3,301.3 623.4,301.5 619.6,300.9 617.1,299.1Z" fill="url(#pg)"/>
<path d="M622.7,303.5 625.2,303.2 626.5,305.7 624.6,306.6 623,305Z" fill="#17807a"/>
<path d="M598.3,333.5 600.6,333.5 600.2,338.5 598.6,338.5Z" fill="#17807a"/>
<path d="M540.2,271.9 543.3,270.7 546.1,270 548.1,271.1 550.4,272.2 552.8,273 555.2,273.9 554.4,275.3 552,276.3 549.6,276.7 547.3,277 544.9,277.4 543,277 541.4,275.9 539.4,273.9Z" fill="url(#pd)" stroke="#fff" stroke-width="1.4" stroke-linejoin="round" paint-order="stroke"/>
<path d="M552.4,278.2 554.4,277.4 556.7,276.7 559.1,276.1 561.5,275.9 563.8,276.1 565.4,277 564.2,278.6 561.5,278.6 559.1,279 556.7,279.8 554.4,280.2 552.6,279.6Z" fill="url(#pd)" stroke="#fff" stroke-width="1.4" stroke-linejoin="round" paint-order="stroke"/>
<path d="M548.3,288.2 549.7,286.3 551.9,287.1 554.1,288.2 556,288.5 556.6,289.3 553.8,289.1 551.1,288.8 548.8,288.8Z" fill="#17807a" stroke="#fff" stroke-width="1" stroke-linejoin="round" paint-order="stroke"/>
<path d="M546.9,289.3 548,289.1 548.3,291 549.4,292.9 550.2,294 549.4,293.8 548,292.1 547.2,290.7Z" fill="#17807a" stroke="#fff" stroke-width="0.8" stroke-linejoin="round" paint-order="stroke"/>
<path d="M550,290.4 552.7,290.2 556,290.7 557.1,291.5 556.9,293.5 556,295.1 554.6,296.2 553.3,295.4 551.9,294 550.8,292.4Z" fill="#17807a" stroke="#fff" stroke-width="1.2" stroke-linejoin="round" paint-order="stroke"/>
<path d="M558,287.7 559.3,286.8 560.7,288.2 561.8,289.9 563.2,291.5 564.9,292.6 565.7,294.6 566,296.5 564.9,297.9 563.8,296.8 562.4,295.7 561.3,295.1 559.9,295.7 559.1,294 558.8,291.8 558.2,289.9Z" fill="#17807a" stroke="#fff" stroke-width="1.4" stroke-linejoin="round" paint-order="stroke"/>
<path d="M556.9,296.2 558.8,297.1 561.3,297.3 562.9,297.1 562.4,298.7 560.5,299 558.5,298.5 557.1,297.6Z" fill="url(#pg)" stroke="#fff" stroke-width="1" stroke-linejoin="round" paint-order="stroke"/>
<path d="M559.1,299.3 560.5,299.6 560.7,301.8 561,304 560.5,305.6 559.1,305.4 558.5,304 559.1,301.8Z" fill="#17807a" stroke="#fff" stroke-width="1" stroke-linejoin="round" paint-order="stroke"/>
<path d="M562.1,300.4 564.3,300.1 566.8,300.4 567.1,301.5 565.2,302.3 562.7,302.6 562,301.5Z" fill="url(#pd)" stroke="#fff" stroke-width="1.2" stroke-linejoin="round" paint-order="stroke"/>
<path d="M567.4,296 569.9,295.1 573.2,294.9 576.5,294.6 579.8,294.3 580.4,295.7 579.5,297.3 579.8,299 578.1,299.6 575.9,300.1 573.7,301.2 571,300.7 568.7,300.1 567.6,298.5 567.1,297.1Z" fill="url(#pd)" stroke="#fff" stroke-width="1.4" stroke-linejoin="round" paint-order="stroke"/>
<path d="M580.5,301.5 580.1,298.3 580.9,295.2 582.4,292.8 583.6,290.4 585.2,288.5 587.2,286.5 589.1,284.5 591.1,283.4 593.1,284.9 594.6,286.5 596.2,288.5 596.4,291.2 598.6,289.9 598,287.7 599,286.3 600.9,284.9 603.3,284.1 605.7,283.4 608,282.6 610,281.4 611.6,279.8 612.1,278.6 612.6,279.8 611.2,282.2 609.2,284.1 607.6,286.1 608.2,287.7 606.9,289.1 607.2,289.7 609.6,291.6 612,293.6 614.3,295.2 616.7,296.3 617.5,298.7 618.3,300.4 615.1,301.9 612,303 608.8,303.4 605.7,302.6 602.5,301.9 599.4,300.7 596.2,300.3 593.1,301.1 589.9,302.3 586.8,303.8 583.6,304.6 580.5,305 578.1,305.8 577.5,305 579.3,302.6Z" fill="#fff"/>
<path d="M634.5,284.6 637.7,283.4 642.1,283.4 647.1,284 647.7,285.9 644.6,287.8 642.7,291.5 644,295.3 643.5,297.5 646,300 649.1,301.9 651,303.8 649.1,305.7 648.5,308.8 649.7,312 650.4,315.1 647.2,316.6 643.5,316.4 639.7,314.5 637.2,311.3 636.6,307.6 637.8,304.4 635.9,301.9 634,298.8 632.2,295 630.1,292.2 630.8,288.4Z" fill="#fff"/>
<path d="M616.8,296.4 620.9,296 625.2,296.9 628,298.9 627.3,301.3 623.4,301.5 619.6,300.9 617.1,299.1Z" fill="url(#pg)"/>
<path d="M538.1,242.8 538.8,237.8 539.4,232.8 538.8,227.7 539.4,222.7 542.5,220.2 545.1,216.4 546.3,212 549.5,208.3 553.2,204.5 557.6,201.4 561.4,199.5 563.3,197.6 566.4,200.1 568.3,203.2 568.9,207 568.9,211.4M563.3,197.6 567,198.8 570.8,199.5 573.9,197.6 576.5,195.1 579.6,194.4 582.1,193.8M579.6,194.4 582.1,197.6 583.4,201.4 585.3,205.1 584.6,208.9 585.9,212.7 586.5,217.1 588.4,221.5 590.3,225.2 587.8,228.4 584.6,231.5 582.1,233M579.8,240.7 580.2,243.5 580,245.9 580.6,248.6 581.4,251.4 584.1,252.2 587.3,253 588.5,255.3 589.6,258.1 591.6,260 593.2,261.6 591.6,262.8 589.6,263.6 589.6,265.9 592.8,265.2 595.9,265.6 597.5,267.9 599.9,269.5 601.1,272M571.9,243.5 575.5,245.5 578.6,246.3 580,245.9M563.3,251 567.6,250.6 571.9,250.8 575.1,252.2 577,253.3 579.4,252.2 581.4,251.4M577,253.3 575.5,256.1 573.9,258.5 571.9,259.6 569.6,260 568,258.9 566.8,256.5 563.7,256.1 560.5,256.5M569.6,260 569.2,262.8 570,264.4 568.4,265.6 569.2,267.5 572.3,267.1 577,267.5 581.8,268.3 587.3,268.7 588.1,266.7 589.6,265.9M569.2,267.5 570,270.3 570.7,272M485.1,300.8 488.9,301.4 488.3,305.2 488.7,309 487.7,312.7 487.9,314.2M504,296.2 509,297.7 514,299.2M515.3,270.7 518.4,272.5 522.2,275 525.3,276.9 527.9,278.2 527.2,281.3 525.3,283.8 524.1,287 525.3,290.1 524.7,293.9M517.8,270.4 520.5,269.3 522.9,269.7 523.8,270.7 524.1,274.3 522.5,274.8 525.2,276.7 527.6,277.8 528.8,280.2 530.7,281 533.5,281.4 536.3,280.6 539,280.2 541,278.6 543,277M525.2,262.5 524.8,265.2 524.1,268 523.8,270.7M543,277 541.4,275.9 539.4,273.9 540.2,271.9 543.3,270.7 546.1,269.6 545.3,266.8 544.5,263.7 543.7,260.9M546.1,270 548.1,271.1 550.4,272.2 552.8,273 555.2,273.9 556.7,275.1 559.1,275.9 561.5,275.5 563.8,275.9 566.2,276.7 567.4,275.1 569.3,273.1 570.5,271.1 570.1,268 568.9,265.2 569.3,262.5 568.5,259.7 565.4,258.9 560.7,258.5M543,277 544.9,277.4 547.3,277 549.6,276.7 552,276.3 554.4,275.3 555.2,273.9M552,276.3 552.4,278.2 551.6,277.8 551.2,279.8 550.4,282.2 548.9,283.7 546.5,284.5 544.1,284.8 541.8,284.9 540.2,283.7 537.8,283.3 535.5,283.7 533.5,283.3 533.5,281.8M524.4,285.3 526,285.7 528,286.1 530,284.9 531.9,285.3 533.5,283.7M525.2,283 524.4,285.3 524.4,286.5 526.8,286.9 530,286.1 533.1,285.3 535.5,284.5 538.6,284.5 541.8,285.7 543.7,286.1 546.5,285.6 548.9,285.3 548.9,283.7M552.6,279.6 554.4,280.2 556.7,279.8 559.1,279 561.5,278.6 564.2,278.6 565.4,278.6 565.4,277 566.2,276.7M551.6,281.8 550.8,283 551.2,284.5 552.8,285.7 555.2,286.5 557.5,286.5 559.9,286.1 562.2,285.7 563.4,284.1 564.6,282.2 566.2,280.2 565.4,278.6M543.7,286.1 544.5,287.7 546.5,287.7 548.5,286.9 548.9,285.3M566.2,281 569.3,281.4 572.5,281 575.6,280.2 578,279.4 580.7,281.4 581.9,283.7 582.7,286.1 583.5,288.1M578,279.4 580.4,278.6 582.7,279.8 584.3,282.2 585.1,284.9 584.7,287.3 583.5,288.1M562.2,286.5 563.8,289.3 565.4,291.2 567,292.8 568.5,294 570.9,294.4 574.1,294.4 577.2,294 580.4,293.6 581.9,292.4M561,304.4 563.2,303.9 566,303 568.7,302.7 571,302.2 573.4,301.5 575.9,300.4 576.5,301.7M575.9,300.4 578.1,299.7 579.9,299.2 581,299.4M597,268 598.6,269.6 600.9,271.1 604.1,272.3 607.2,273.5 610.4,274.3 612.4,275.5 612.6,277.4 612,279M569.4,268 568.7,271.1 566.7,274.3 565.5,276.7 564.3,278.6M617.1,298.8 620.9,301.3 622.7,303.5 623.4,306.9 624.6,309.4 623.4,313.8M616.8,296.4 620.9,296 625.2,296.9 628,298.9 627.3,301.3 623.4,301.5 619.6,300.9 617.1,299.1 616.8,296.4M629,300.7 632.2,301.3 635.3,302.8M626.5,305.7 629,305 632.2,306.9 635.3,307.6 636.6,308.8M624.6,309.4 627.8,310.1 630.3,311.3 633.4,312 636.6,311.3M603.3,317.6 607.7,316.4 612.7,315.7 617.7,315.1 623.4,313.8 625.2,317.6 627.8,321.4 629,325.1 631.5,328.9 632.8,332.7 634,334.6M616.5,316.4 615.2,320.1 614.6,323.3 611.4,325.1 608.9,326.4 605.8,326.4 602,327M608.9,326.4 610.8,328.9 615.2,331.4 620.2,334.6 625.2,337.7 630.3,339 632.8,337.7M600.1,337.1 603.3,335.2 605.8,332.7 604.5,330.8 608.3,329.5 610.8,328.9M600.8,329.5 600.1,333.3 598.9,337.1M668.6,320.1 667.3,324.5 668,328.9 667.3,332.7 668.6,337.1 671.1,338.3 673,341.5 673.6,344.6 672.4,348.8M650.4,315.1 654.1,313.2 657.9,312 662.3,313.8 666.1,315.7 668.6,320.1 673,318.2 677.4,316.4 681.8,313.8 685.5,314.5 689.3,313.8 692.5,312 696.2,312.6 700.6,311.1M668.6,337.1 674.2,336.5 679.3,335.8 683,332.7 687.4,330.8 691.2,328.3 694.3,324.5 693.7,320.1 695.6,317 696.2,312.6M645.3,353.4 649.1,356.6 652.9,357.8 651.6,362.8 650.4,366.6 645.3,365.3 640.3,367.2 634,369.1 630.3,370M653.5,354 652.9,356.6M617.8,371.4 620.3,372 625.3,371.4 630.4,372 635.4,368.8 640.4,367.6 644.8,367 645.4,372.6M653.5,354 656.7,353.4 661.7,352 668,358 664,362 658,368 650,373 645.5,374 644.8,367 648,365.1 651.7,362.6 653,358.8 653.5,354M634.5,284.6 631.4,281.5 629.5,277.7 630.8,273.9 633.9,272.1 637.7,269.5 641.5,267.9 645.9,267.9 649.6,270.2 650.9,272.1 654.6,270.8 659,270.2 662.8,271.7 667.2,271.4 669.1,268.9 665.3,267 667.2,263.9 668.5,260.8 667.2,259.5 671.6,258.2 676.6,257.6 681.7,256.4 686.7,254.5 690.4,254.1 693.6,255.1 694.8,257.6 698.6,259.5 702.4,261.4 706.8,258.9 709.9,257.6 711.8,260.8 714.3,264.5 716.8,268.3 718.7,270.8 722.5,271.2 727,270.8M600,270.2 605,271.4 610,272.7 612.6,275.2 611.9,279 609.4,282.1 607.5,284.6M654.3,301.6 654.3,290.3 657.8,289 661.6,288.4 665.3,290.9 668.5,293.4 671.6,295.3 675.4,295 679.1,296.6 681.7,299.7 683.5,302.8 686.7,304.1 689.8,301.6 693,299.1 696.1,297.2 700.5,296.6 705.5,295.9 710.5,296.6 714.9,297.2 718.1,295.3 717.5,291.5 720.6,289.6 724.4,287.1 725.6,284 727,282.7M654.3,301.6 657.2,299.1 660.9,297.8 664.7,299.7 668.5,302.8 672.2,305.3 675.4,308.5 677.3,310M689.8,301.6 690.4,304.7 694.2,305.3 698,306.6 702.4,305.3 706.8,303.5 711.8,301.6 716.8,299.1 718.1,295.3M686.7,304.1 687.9,307.2 691.7,307.9 695.5,309.1 699.2,310M715,267 718.8,269.5 723.2,270.8 727.6,270.8 731.3,273.9 735.7,275.8 740.8,273.9 745.1,272 750.2,270.8 755.2,272.6 759.6,273.9 764,273.9 765.9,272 764.6,268.9 767.8,266.4 772.2,267.6 775.9,268.9 777.8,271.4 782.8,272 787.9,272.6 791.6,274.5 796.7,275.8 801.7,275.1 805.4,273.9 809.2,272.6 813,273.6 815.5,274.9 819.3,273.3 821.8,269.5 823,265.1 825.5,262 830.6,261.1 835.6,262 839.4,263.8 842,266.4M736.4,276.2 733.8,279.5 731.3,282.7 726.9,283.9 723.8,286.5 722.5,289 718.1,290.2 717.5,294 718.8,297.8 715,300.3M736.4,276.2 739.5,278.3 743.3,280.8 745.8,284.6 746.4,288.3 750.2,290.2 755.2,292.1 759,295.2 762.7,297.1 767.8,297.8 772.8,298.4 777.8,299.6 782.8,300.3 787.9,299.3 792.9,298.4 797.9,296.5 801.7,293.4 802.9,290.9 808,289 813,287.1 818,285.2 821.8,283.9 821.1,282.1 816.8,281.4 813,280.8 811.1,279.5 813.6,276.4 815.5,274.9M830,261.4 835,261.4 838.8,263.9 841.3,268.3 842.6,272.7 846.3,275.2 850.1,277.1 852.6,280.3 856.4,280.9 860.1,279.6 861.4,280.3 860.1,284 858.3,287.8 855.1,290.9 853.2,294.1 852,296.6 848.8,298.5 845.1,300M835.9,305.7 839,303.2 842.8,302 846.5,300.1 849.7,297.6 852.8,293.8M841.5,311.6 844.6,312M691.5,354.5 693.3,351.4 691.5,348.3 690.2,345.1 691.5,342.6 695.2,340.7 698.4,337.6 700.9,334.4 703.4,331.3 705.3,328.8 702.8,326.9 701.5,323.8 704,322.5 707.8,321.3 711.6,320M711.6,320 714.1,322.5 715.3,325.7 714.7,329.4 716.6,332.6 719.7,335.1 722.9,335.7 726.6,337.6 730.4,339.5 734.2,341.1 737.9,342.4 739.8,343.2 742.3,342.6M719.7,335.1 718.5,337.6 720.3,340.1 724.1,342 727.9,343.2 731.7,344.5 735.4,345.8 739.2,346.4 739.8,343.2M748,342.9 751.8,340.7 755.5,338.8 759.3,338.2 761.8,338.8 761.2,341.4 759.3,344.5 757.4,347.6 756.1,351.4 754.3,355.2 752.4,357.7 751.8,360.2M761.8,338.8 764.3,341.4 767.5,343.2 768.1,347 766.2,349.5 764.9,352.7 767.5,355.8 769.3,358.9 771.8,360.2 775.6,357.7 777,357.1M771.4,361.4 770.8,363.9 767.6,364.5 764.5,367 763.9,370.8 765.1,374.5 767,378.9 768.3,382.7M771.4,361.4 772,362 775.8,360.7 778.9,361.4 777.7,358.8M772,362 772.7,365.1 772.4,368.3 773.9,370.8 777.1,369.1 780.2,369.9 782.1,373.3 783.3,376.4 784,379.6 780.8,380.4 777.7,382.1 776.4,383.3M778.9,361.4 780.8,363.2 782.1,367 784,370.1 786.5,373.3 788.7,376.4 789.6,379.6 788.4,380.2 784.6,379.6 784,379.6M788.4,380.2 789.2,383.3 787.7,385.9 784.6,388.4 783.3,390.2M772,400 770.1,401.6 770.8,402.8M777.7,358.8 781.5,357.6 784,355.7M769.5,358.8 771.4,361.4M751.9,360.1 753.8,356.3 757,352.6 758.8,347.5 760.7,343.8 763.9,341.3M763.9,341.3 765.8,343.1 767,346.9 765.1,351.3 767,355.1 769.5,358.8" fill="none" stroke="#fff" stroke-width="1.2" stroke-linejoin="round"/>
</g>
<clipPath id="c3"><path d="M480.8,332.8 483.3,327.8 487,323.4 490.8,319.6 492.7,318.4 497.1,320.3 502.1,321.5 507.8,319 514,317.1 520.3,316.5 525.3,315.9 528.5,315.9 531.6,315.2 534.1,317.1 533.5,320.3 534.8,323.4 537.3,326.6 536.4,328.4 540.2,329.6 544.6,330.9 549,332.1 554,333.4 557.8,335.3 560.3,332.8 562.2,329.6 565.3,328.4 569.1,329 572.2,330.2 575.4,330.9 580.4,332.1 585.4,333.4 590.4,332.8 595.5,332.5 600.5,330.9 600.5,331.5 599.5,337 597.5,342 594,337.5 592.6,337.1 595.1,342.7 598.2,349 599,350 600.9,353.8 603.4,358.2 605.2,362.6 607.1,367 608.4,370.1 610.3,373.9 613.4,377.6 616.6,380.8 619.1,383.9 620.9,385.8 619.7,387.7 620.9,388.9 625.3,389.9 630.4,389.6 634.8,388.3 638.5,387.1 641.7,386.4 641,390.2 639.2,394 636.7,398.4 633.5,402.1 629.7,405.9 625.3,409.7 621.6,412.8 617.8,416.6 615.9,420.3 614,425 614.2,423.9 612.3,427 610.4,430.1 609.8,434.5 610.4,438.9 611.7,443.3 613,447.1 613.6,451.5 613.6,455.3 614.2,455 613.6,458.1 610.4,461.3 606.7,463.8 602.9,466.3 599.8,468.8 598.5,472.6 599.1,476.4 599.8,480.1 598.5,483.3 595.4,485.1 594.1,488.3 592.9,492.1 591,495.8 588.5,499.6 585.3,503.4 581.6,506.5 577.2,509 572.8,510 567.7,510.3 563.3,510.9 559.6,512.2 557.1,510.3 555.8,506.5 554.5,501.5 552.7,497.1 550.8,493.3 548.3,488.9 547,483.9 545.8,478.2 543.2,472.6 540.7,467.6 538.8,463.2 538.8,460.7 538.8,460.3 540.1,455.9 541.4,451.5 542.6,447.7 543.2,443.3 542.6,438.9 541.4,434.5 540.7,431.4 538.8,429.5 537.6,427 535.7,424.5 533.2,422 531.9,418.8 532.6,415.1 532.6,410 531.9,405 530.7,400 532.3,405.3 531,402.2 527.9,404.1 524.1,404.7 520.3,402.8 516.6,400.3 512.8,400.3 509,400.9 504.6,402.8 500.2,403.5 496.5,402.8 491.4,403.5 487,404.7 483.3,403.5 479.5,400.3 475.7,396.6 472.6,392.8 470.1,390.3 467.6,387.8 465.7,384.6 463.8,381.5 462.3,378.3 463.8,375.2 465,371.4 464.4,367.7 463.8,363.9 463.2,360.1 464.4,356.4 466.9,352 469.4,347.6 472.6,343.8 476.4,341.3 479.5,338.1Z"/></clipPath>
<g clip-path="url(#c3)">
<path d="M480.8,332.8 483.3,327.8 487,323.4 490.8,319.6 492.7,318.4 497.1,320.3 502.1,321.5 507.8,319 514,317.1 520.3,316.5 525.3,315.9 528.5,315.9 531.6,315.2 534.1,317.1 533.5,320.3 534.8,323.4 537.3,326.6 536.4,328.4 540.2,329.6 544.6,330.9 549,332.1 554,333.4 557.8,335.3 560.3,332.8 562.2,329.6 565.3,328.4 569.1,329 572.2,330.2 575.4,330.9 580.4,332.1 585.4,333.4 590.4,332.8 595.5,332.5 600.5,330.9 600.5,331.5 599.5,337 597.5,342 594,337.5 592.6,337.1 595.1,342.7 598.2,349 599,350 600.9,353.8 603.4,358.2 605.2,362.6 607.1,367 608.4,370.1 610.3,373.9 613.4,377.6 616.6,380.8 619.1,383.9 620.9,385.8 619.7,387.7 620.9,388.9 625.3,389.9 630.4,389.6 634.8,388.3 638.5,387.1 641.7,386.4 641,390.2 639.2,394 636.7,398.4 633.5,402.1 629.7,405.9 625.3,409.7 621.6,412.8 617.8,416.6 615.9,420.3 614,425 614.2,423.9 612.3,427 610.4,430.1 609.8,434.5 610.4,438.9 611.7,443.3 613,447.1 613.6,451.5 613.6,455.3 614.2,455 613.6,458.1 610.4,461.3 606.7,463.8 602.9,466.3 599.8,468.8 598.5,472.6 599.1,476.4 599.8,480.1 598.5,483.3 595.4,485.1 594.1,488.3 592.9,492.1 591,495.8 588.5,499.6 585.3,503.4 581.6,506.5 577.2,509 572.8,510 567.7,510.3 563.3,510.9 559.6,512.2 557.1,510.3 555.8,506.5 554.5,501.5 552.7,497.1 550.8,493.3 548.3,488.9 547,483.9 545.8,478.2 543.2,472.6 540.7,467.6 538.8,463.2 538.8,460.7 538.8,460.3 540.1,455.9 541.4,451.5 542.6,447.7 543.2,443.3 542.6,438.9 541.4,434.5 540.7,431.4 538.8,429.5 537.6,427 535.7,424.5 533.2,422 531.9,418.8 532.6,415.1 532.6,410 531.9,405 530.7,400 532.3,405.3 531,402.2 527.9,404.1 524.1,404.7 520.3,402.8 516.6,400.3 512.8,400.3 509,400.9 504.6,402.8 500.2,403.5 496.5,402.8 491.4,403.5 487,404.7 483.3,403.5 479.5,400.3 475.7,396.6 472.6,392.8 470.1,390.3 467.6,387.8 465.7,384.6 463.8,381.5 462.3,378.3 463.8,375.2 465,371.4 464.4,367.7 463.8,363.9 463.2,360.1 464.4,356.4 466.9,352 469.4,347.6 472.6,343.8 476.4,341.3 479.5,338.1Z" fill="#8cc1be"/>
<path d="M528.5,315.9 527.9,319.6 527.2,323.4 528.5,326.6 530.4,330.3 532.3,334.7 531.6,335 531,340 531.6,345 533.5,350.1 537.9,355.1 542.9,356.4 546.7,355.7 555.5,359.5 564.3,363.3 570.6,365.1 569.9,370.2 569.9,375.2 566.8,378.3 565.5,383.4 567.4,387.8 566.8,389 569.4,392.7 572.6,396.5 576.4,399.6 579.5,403.4 583.3,405.3 587.7,406.5 587.2,406.9 588.5,410 586.6,413.8 585.9,417.6 585.3,420.1 584.7,424.5 584.1,428.9 584.7,433.3 585.9,437.1 586.6,438.9 583.4,440.2 582.2,443.3 581.6,446.5 579,448.4 575.3,447.7 571.5,446.5 568.4,445.9 565.9,444 564.6,441.5 564,437.1 561.5,436.4 557.7,437.1 553.9,437.7 552.7,435.8 550.8,433.3 545.1,432.7 540.7,431.4 535.1,431.4 535.1,460.3 532.6,467.6 538.8,495.2 551.4,495.2 555.2,495.8 557.7,495.8 559.9,492.7 560.2,488.3 562.7,489.5 566.5,486.4 569.6,484.5 574,485.1 577.2,482 580.3,479.5 582.8,477.6 584.1,476.6 588.5,477.4 591,476.4 591.6,480.1 592.2,484.5 592.9,487 595.4,485.1 600.4,485.1 607.9,467.6 618,455 620.5,431.4 616.7,420.7 615.7,416.3 615.5,411.9 616.1,408.8 619.2,406.3 624.3,402.5 628,400 629.1,398.4 631.6,395.2 627.9,394.6 624.1,392.7 621.6,390.8 619.7,387.7 620.9,385.8 623.5,383.9 620.3,375.1 605.2,350 606,345 604,328 560,325 540,312 531,311Z" fill="url(#pl)"/>
<path d="M574,465.7 579,463.2 583.4,460.7 587.2,460 591,461.3 593.5,464.4 594.1,468.8 592.9,472.6 591,476.4 588.5,477.4 584.1,476.6 580.9,473.8 578.4,470.1 575.9,466.9Z" fill="#8cc1be"/>
<path d="M516.6,384.6 519.1,382.1 522.8,381.5 527.9,382.1 532.9,382.7 537.9,382.1 542.3,380.9 544.2,384.6 545.4,387.8 542.9,390.9 541.7,394 539.2,396.6 536.7,399.7 532.9,400.3 531,402.2 529.1,406.6 522.8,407.2 516.6,402.8 515,396.6 515.3,391.5 515.9,387.8Z" fill="url(#pl)"/>
<path d="M499.6,389 503.4,388.4 507.8,388.4 509,391.5 509.6,396.6 509,400.9 507.8,405.3 500.2,405.3 498.3,400.3 499,396.6 499.2,392.2Z" fill="url(#pl)"/>
<path d="M477.4,345.6 484.5,345 484.5,347.3 478.2,347.6 475.7,351.1 473.8,355.1 472.6,359.6 469.8,360.1 470.3,356.6 472.3,352.6 474.5,348.6Z" fill="url(#pg)"/>
<path d="M473.8,391.5 477,390.9 478.9,394 482,397.2 485.1,400.3 487.7,403.5 486.4,407.2 480.1,405.3 475.1,399.1 471.3,394Z" fill="url(#pg)"/>
<path d="M620.3,388.3 621.6,386.4 630.4,387.1 635.4,386.4 634.8,388.3 634.1,392.1 631.6,395.2 627.9,394.6 624.1,392.7 621.6,390.8Z" fill="url(#pg)"/>
<path d="M578.4,497.1 580.9,495.2 584.1,495.8 584.7,498.3 582.2,500.2 579.7,500.2Z" fill="url(#pl)"/>
<path d="M588.1,487.9 589.7,487 591.4,487.9 591.4,490.2 589.7,491.2 588.1,490.2Z" fill="url(#pl)"/>
<path d="M502.1,321.5 503.4,327.1 504.6,329.6 500.2,330.8 497.1,333.3 492.7,335.8 487.7,338.4 484.5,340.9 484.5,344.6M528.5,315.9 527.9,319.6 527.2,323.4 528.5,326.6 530.4,330.3 532.3,334.7 533.5,331.6 535.4,329.1 537.3,326.6M476.4,345 484.5,344.8 484.5,347.6 477.6,347.8 475.1,351.3 473.2,355.1 472,359.5 463.2,360.1M484.5,346.3 492.7,350.1 500.2,355.1 507.8,360.1 515.3,365.1 516.6,366.4 522.8,363.9 530.4,359.5 537.9,355.1 533.5,350.1 531.6,345 531,340 531.6,335M485.1,347.6 490.2,350.7 490.8,357.6 491.4,365.1 492.1,372.7 492.4,375.8 487.7,375.8 482.6,376.2 476.4,376.5 472.6,374.6 467.6,375.2 462.8,378.3M516.6,366.4 518.4,367.7 517.8,372.7 516.6,375.8 511.5,376.5 507.1,377.5 501.5,379 496.5,382.1 493.9,385.2 492.7,389 488.3,389.6 485.1,389 483.9,385.2 479.5,384.6 477,381.5 476.4,376.5M537.9,355.1 542.9,356.4 546.7,355.7 555.5,359.5 564.3,363.3 570.6,365.1 573.1,365.1 573.1,335M573.1,358.2 582,358.2M573.2,358.2 603.4,358.2M546.7,355.7 548.6,362 548,368.9 545.4,375.2 542.3,380.9 537.9,382.1 532.9,382.7 527.9,382.1 522.8,381.5 519.1,382.1 516.6,384.6 514.7,385.2 512.2,383.4 509,380.9 507.1,377.5M542.3,380.9 544.2,384.6 545.4,387.8 547.3,390.9 545.4,392.2 548,396.6 546.1,400.3 544.8,404.1 546.7,408.5 548.6,410M570.6,365.1 569.9,370.2 569.9,375.2 566.8,378.3 565.5,383.4 567.4,387.8 566.8,389 562.4,391.5 558,394 553,395.3 548,396.6M516.6,384.6 515.9,387.8 515.3,391.5 515,396.6 514.7,400.3M545.4,387.8 542.9,390.9 541.7,394 539.2,396.6 536.7,399.7 532.9,400.3 531,402.2M462.3,381.5 468.8,385 473.8,385.2 477,384.6M467.6,387.8 471.3,385.9 477,385.2 482.6,385.9 484.5,389 485.8,390.9 483.9,393.4 482,391.5 478.9,390.9 475.7,392.8 473.8,391.5M485.8,390.9 487,395.3 486.4,400.3 487.9,404.1M492.7,389 495.2,390.3 499,389 503.4,388.4 507.8,387.8 511.5,387.1 514.7,385.2M499.6,389 499.2,392.2 499,396.6 498.3,400.3 497.7,402.8M507.8,388.4 509,391.5 509.6,396.6 509,400.9M511.5,387.5 512.2,394 512.5,400.3M567.6,388.9 569.4,392.7 572.6,396.5 576.4,399.6 579.5,403.4 583.3,405.3 587.7,406.5 591.4,407.2 595.2,406.5 598.3,404.6 599,402.8 597.1,399.6 594.6,396.5 597.1,392.7 599,388.9 600.9,385.2 602.7,382 604,379.5 604.6,373.2 607.1,370.7 608.4,370.1M555,396.5 558.8,394 563.2,391.5 567.6,388.9M555,406.5 560,405.3 565,404 570.1,404.6 575.1,403.4 579.5,403.4M604,379.5 607.8,378.9 612.8,379.5 615.3,382 617.8,385.2 619.7,387.7 621.6,390.8 624.1,392.7 627.9,394.6 631.6,395.2 629.1,398.4 625.3,401.5 620.3,405.3 616.6,407.8 616.3,410.3 615.9,415.3 615.9,420.3M631.6,395.2 634.1,392.1 634.8,388.3M598.3,404.6 601.5,405.3 605.2,405.9 609,407.2 612.8,406.5 616.6,407.8M587.7,407.2 588.3,410.3 586.4,414.1 585.8,417.8 584.5,421.6 583.3,425M595.2,406.5 597.7,407.8 598.3,411.6 597.1,415.3 595.8,419.1M532.6,410.7 537.6,411.1 542.6,411.6 545.1,410.7 547,408.8 546.4,403.8 545.1,400M542.6,411.6 543.2,415.1 544.5,417.6 545.8,420.7 543.2,422.6 540.1,422.6 538.2,424.5 538.8,427M547,408.8 551.4,408.2 554.5,408.8 553.9,412.6 552.7,416.3 550.8,420.7 549.5,424.5 548.3,427 545.1,428.3 542,430.1 540.7,431.4 545.1,432.7 550.8,433.3 552.7,435.8 553.9,437.7 557.7,437.1 561.5,436.4 564,437.1 564.6,441.5 565.9,444 568.4,445.9 571.5,446.5 575.3,447.7 579,448.4 581.6,446.5 582.2,443.3 583.4,440.2 586.6,438.9 585.9,437.1 584.7,433.3 584.1,428.9 584.7,424.5 585.3,420.1 585.9,417.6 586.6,413.8 588.5,410 587.2,406.9 582.8,406.3 579,405 575.9,403.1 571.5,403.8 566.5,404.4 561.5,405.7 556.4,405 551.4,408.2M587.2,406.9 591.6,406.9 596.6,405.7 597.9,408.2 598.5,412.6 597.3,416.3 598.5,420.1 594.1,420.1 588.5,420.7 585.3,420.1M598.5,420.1 602.9,422.6 607.9,426.4 610.4,430.1M596.6,405.7 600.4,404.4 605.4,405.7 610.4,406.9 615.5,405.7 619.2,406.3 624.3,402.5 628,400M616.1,420.7 615.7,416.3 615.5,411.9 616.1,408.8 619.2,406.3M586.6,438.9 589.1,439.9 592.2,441.5 595.4,444 596.6,444.6 598.5,448.4 602.9,448.4 607.9,447.7 613,447.1M595.4,443.3 597.3,445.2 597.9,449 599.1,452.8 600.4,455.9 601,459 599.1,461.6 597.9,458.4 596.6,455.3 595.4,451.5 595.1,447.7 595.4,444M565.9,444 569.6,447.1 569,451.5 565.9,452.1 565.2,456.5 565,461.6 566.5,462.8 570.2,464.1 575.9,463.4 580.3,460.9 584.1,458.4 587.2,456.5 590.3,455.3 593.5,454.6 594.7,451.5 594.1,447.7 595.4,444M538.8,462.8 545.1,463.4 552.7,463.4 560.2,464.1 566.5,462.8M563.3,465.7 562.7,470.1 562.1,475.7 560.2,476.4 559.9,482.6 560.2,488.3 559.9,492.7 557.7,495.8 555.2,495.8 551.4,495.2M560.2,488.3 562.7,489.5 566.5,486.4 569.6,484.5 574,485.1 577.2,482 580.3,479.5 582.8,477.6 584.1,476.6 580.9,473.8 578.4,470.1 575.9,466.9 574,465.7 569,465 563.3,465.7M574,465.7 579,463.2 583.4,460.7 587.2,460 591,461.3 593.5,464.4 594.1,468.8 592.9,472.6 591,476.4 588.5,477.4 584.1,476.6M591,476.4 591.6,480.1 592.2,484.5 592.9,487 595.4,485.1M593.5,464.4 596.6,462.5 600.4,460.7 601.7,457.5 601,455M578.4,497.1 580.9,495.2 584.1,495.8 584.7,498.3 582.2,500.2 579.7,500.2 578.4,497.1M588.1,487.9 589.7,487 591.4,487.9 591.4,490.2 589.7,491.2 588.1,490.2 588.1,487.9M585.3,420.1 587.8,421.1 588.5,424.5 586.6,427 584.7,425.1M588.5,424.5 586.6,424.5" fill="none" stroke="#fff" stroke-width="1.2" stroke-linejoin="round"/>
</g>
<path d="M34.1,200.1 36.3,202 39.4,203.2 42.6,204.5 44.4,207 45.7,210.1 48.8,209.5 50.7,208.3 54.5,209.1 57,211.2 57.6,212.7 54.5,212 52,211.4 53.2,213.3 51.4,215.2 50.1,217.4 47.6,217.7 45.1,216.4 42.6,214.5 39.4,213.9 36.9,212 35,210.1 34.1,209.5Z" fill="#8cc1be"/>
<path d="M33.1,187.8 35.7,187.2 38.5,188.2 36.3,189 33.5,188.8Z" fill="#8cc1be"/>
<path d="M68.1,236.2 69.9,235.9 69.9,237.2 68.3,237.2Z" fill="url(#pl)"/>
<path d="M180.2,173 185.3,172.5 190.3,173.3 195.3,174 199.7,174.6 201.9,176.2 198.5,178.4 194.7,180.2 191.6,182.8 188.4,185.3 185.3,187.8 182.1,187.2 179.6,184.6 177.5,182.8 178.4,179.6 179.6,176.5Z" fill="#8cc1be"/>
<path d="M194.7,184.6 197.8,181.5 202.2,179.6 206,178.4 205.4,180.9 209.1,181.5 212.9,180.9 216.7,182.8 220.4,182.1 223.6,184 223,180.2 224.8,178.7 228,179.6 229.9,182.1 230.5,185.9 233,189 236.8,191.6 240.3,193.4 237.4,195.3 233.6,196.6 230.5,197.8 226.7,198.8 223,198.5 217.9,199.3 212.9,199.7 207.9,198.5 203.5,196.6 198.8,194.7 205.4,193.4 212.9,192.6 207.9,190.9 201.6,190 196.6,189 202.2,187.2 197.8,185.9Z" fill="#8cc1be"/>
<path d="M185.3,162.4 189,160.1 192.8,158.3 197.2,157 201,156.4 199.7,158.6 197.2,160.8 193.4,161.7 189.7,162.9 186.5,163.7Z" fill="#8cc1be"/>
<path d="M198.5,167.1 202.9,165.8 205.4,163.9 209.1,163.3 211.7,165.2 215.4,166.4 220.4,165.8 224.2,165.2 228,165.8 226.7,167.7 223,168.7 217.9,169.2 212.9,170.2 208.5,171.2 210.4,168.9 206.6,167.7 202.9,168.3Z" fill="#8cc1be"/>
<path d="M209.8,153.2 213.5,152.6 216.7,153.6 213.5,155.1 210.4,154.9Z" fill="#8cc1be"/>
<path d="M212.9,149.5 218.6,149.2 217.9,150.4 213.5,150.5Z" fill="#8cc1be"/>
<path d="M229.9,145.7 234.3,145.3 238,147.6 241.8,149.5 245.6,152 243.1,152.9 239.3,151.1 235.5,149.5 232.4,147.6Z" fill="#8cc1be"/>
<path d="M249.3,148.8 252.5,149.5 255.6,151.4 253.7,152.4 250.6,150.7Z" fill="#8cc1be"/>
<path d="M219.2,160.8 220.7,161.2 221.7,164.5 220.2,163.9Z" fill="#8cc1be"/>
<path d="M244.9,161.4 248.7,161.2 249.3,163.9 246.8,165.2 244.9,167.7 246.2,164.5Z" fill="#8cc1be"/>
<path d="M238,180.2 241.8,178.4 246.2,176.5 249.3,175.9 250.6,178.4 251.8,181.5 249.3,185.3 246.8,186.5 244.3,184 241.2,182.1Z" fill="#8cc1be"/>
<path d="M227.4,176.5 230.5,176.2 230.7,178.4 228,178.4Z" fill="#8cc1be"/>
<path d="M247.5,197.2 250.6,195.9 253.7,198.5 251.8,200.1 248.7,199.1Z" fill="#8cc1be"/>
<path d="M272.1,130.1 277.7,129.1 284,127.6 291.6,126.1 297.8,124.4 305.4,122.8 311.7,122.3 317.9,122.8 325.5,122.5 333,123.8 339.3,124.8 345.6,126.6 340.5,128.2 335.5,129.4 330.5,131.1 326.7,133.2 323.6,135.7 320.4,138.2 317.9,140.8 312.9,142 307.9,143.6 304.1,145.1 301,147.7 300.3,151.4 300.3,155.2 296.6,154.9 292.8,152.7 291.6,149.5 292.8,146.4 290.3,144.5 286.5,143.3 282.8,141.4 286.5,140.1 291.6,139.5 295.3,138.2 299.1,136.4 302.9,134.5 300.3,133.2 295.3,134.5 290.3,135.1 286.5,133.8 282.8,132.6 277.7,132.6 273.3,132Z" fill="#8cc1be"/>
<path d="M256.4,138.2 260.1,135.1 263.9,134.5 267.7,137 271.5,139.5 275.2,142 277.1,144.5 275.2,146.4 272.7,147.9 269.6,148.9 265.2,149.2 261.4,147.7 263.9,145.8 267.7,145.1 265.2,143.3 261.4,142 258.3,140.8Z" fill="#8cc1be"/>
<path d="M273.3,159 277.7,157.7 282.8,156.5 287.8,157.1 292.8,157.7 297.8,158.3 301.6,159.2 299.1,161.2 294.1,160.9 289,160 284,160.2 279,160.9 274.6,160.5Z" fill="#8cc1be"/>
<path d="M263.3,162.1 266.4,164.6 270.2,166.5 275.2,167.1 280.2,166.8 285.3,165.9 290.3,165.9 295.3,167.1 295.9,169.6 291.6,170.9 286.5,170.3 281.5,170.9 276.5,170.9 271.5,170.3 267.1,169.6 265.2,166.5Z" fill="#8cc1be"/>
<path d="M232.5,145.8 236.3,146.4 240.7,148.3 245.1,151.4 242.6,152.7 238.8,150.8 235,148.7Z" fill="#8cc1be"/>
<path d="M248.8,148.7 252.6,149.5 255.1,151.4 252.6,152.1 250.1,150.8Z" fill="#8cc1be"/>
<path d="M254.5,159 258.3,159 260.1,160.9 257,161.2Z" fill="#8cc1be"/>
<path d="M245.1,161.5 248.2,161.2 249.5,163.4 247,165.2 245.1,164Z" fill="#8cc1be"/>
<path d="M255.1,167.1 258.9,166.5 260.8,169 258.3,170.3 255.8,169Z" fill="#8cc1be"/>
<path d="M285.3,178.2 289,176.3 292.8,176.9 293.4,180.7 292.2,183.8 295.3,184.4 299.1,185.1 302.9,186.3 306.6,187.6 310.4,188.8 314.2,190.1 317.9,192 320.4,194.5 323.6,197 326.7,200.1 330.5,203.3 334.3,205.8 338,207.7 341.2,209.6 339.3,212.7 336.8,211.5 333,209.6 329.2,207.7 325.5,206.4 321.7,205.2 317.9,203.9 316,201.4 313.5,198.9 310.4,196.4 307.3,194.5 304.1,193.2 300.3,192 296.6,191.4 292.8,192.6 289,192.6 285.3,191.4 284.6,187.6 285.3,183.8 284,181.3Z" fill="#8cc1be"/>
<path d="M312.3,210.8 316.7,210.2 320.4,211.5 324.2,212.1 327.4,214.6 330.5,217.7 333.6,220.2 334.9,223.4 331.8,224 328.6,222.1 330.5,225.9 331.1,227.8 327.4,225.9 323.6,224 320.4,222.1 322.3,220.2 320.4,218.4 316.7,217.1 313.5,215.9 311.7,213.3Z" fill="#8cc1be"/>
<path d="M271.5,180.7 274.6,177.5 278.4,176 280.9,176.9 279.6,180 278.4,183.2 280.2,186.3 278.4,187.8 274.6,187 272.1,184.4Z" fill="#8cc1be"/>
<path d="M273.3,190.1 277.7,189.8 281.5,189.5 285.3,191.4 285.9,193.2 281.5,192.6 277.1,191.6Z" fill="#8cc1be"/>
<path d="M281.5,198.3 285.3,197 289,198.9 290.3,202 292.2,205.8 289.7,207.7 287.2,208.9 284,207.7 280.2,208.3 278.4,207.7 280.2,204.5 280.9,201.4Z" fill="#8cc1be"/>
<path d="M280.2,214 282.8,215.2 285.9,216.5 289,217.7 290.9,219 288.4,220.2 285.3,221.5 282.8,222.8 280.2,220.9 280.9,217.7Z" fill="#8cc1be"/>
<path d="M304.1,202.9 308.5,202.9 308.5,205.8 304.1,205.8Z" fill="#8cc1be"/>
<path d="M302.2,216.5 305.4,215.5 306.9,217.1 303.5,218.4Z" fill="#8cc1be"/>
<path d="M237.5,180.7 242.6,179.4 244.4,176.9 247.6,176.3 248.8,178.8 251.4,181.3 250.7,184.4 247.6,185.7 245.1,184.4 241.9,182.6Z" fill="#8cc1be"/>
<path d="M256.4,175 262.7,174.4 267.7,175.7 264.5,177.5 260.8,178.8 258.9,181.9 256.4,180Z" fill="#8cc1be"/>
<path d="M253.9,188.2 258.3,186.3 262,188.8 263.3,192 260.8,194.5 257,194.5 253.9,192Z" fill="#8cc1be"/>
<path d="M247.6,196.4 250.7,195.8 253.2,199.5 250.1,199.5Z" fill="#8cc1be"/>
<path d="M351.6,281.1 354.1,278.2 355.9,275.1 357.8,270.1 359.1,269.8 358.5,273.2 357.8,275.7 360.3,277 363.5,276.6 364.7,277.6 363.5,280.1 361,279.5 358.5,280.8 355.3,280.8 352.8,281.6Z" fill="#8cc1be"/>
<path d="M333.3,293.3 335.2,291.4 338.4,290.2 341.5,288.7 344,288.3 342.8,289.9 339.6,291.2 336.5,292.7 334.6,293.9Z" fill="#8cc1be"/>
<path d="M339.6,274.8 342.1,274.8 342.1,275.7 339.6,275.7Z" fill="#8cc1be"/>
<path d="M317.8,151.2 326.5,148.8 336.5,142.5 331.5,138.8 340.2,136.2 349,130.5 359,129.5 371.5,127.5 384,126.2 394,123.8 404,122.5 414,119.5 429,119.5 439,122.5 447.8,125 434,127.5 424,128.8 436.5,130.5 450.2,129.5 444,133.8 454,134.5 466.5,131.2 474,132 466.5,135.5 456.5,138 451.5,140 454,143.8 452.8,150 454,156.2 449,160 451.5,165 447.8,168.8 449,173.8 444,177.5 437.8,180.5 445.2,185 446.5,189.5 440.2,190 442.8,193.8 435.2,195 430.2,198.8 424,201.2 416.5,203.8 411.5,208.8 404,213.8 397.8,220 394,226.2 390.2,232.5 384,231.2 379,227.5 375.2,221.2 376.5,216.2 371.5,212.5 374,206.2 371.5,201.2 374,196.2 367.8,191.2 364,185 365.2,181.2 360.2,176.2 357.8,171.2 354,166.2 349,163.8 339,161.2 327.8,161.2 322.8,157.5 329,155Z" fill="url(#pg)"/>
<path d="M447.8,213 452.8,214.5 457.8,212.5 464,211.2 468.5,213 467.8,217 464,219.5 459,222 454,220.5 451,217.5Z" fill="#8cc1be"/>
<path d="M317.6,390.1 319.1,389.8 320.1,391.3 319.5,393.2 318.1,393.3 317.3,392Z" fill="#fff"/>
<path d="M268.1,371.2 272,371.2 272,373.6 270.8,375.2 271.7,376.1 272.3,377.6 271.4,379.1 269.9,379.7 267.5,379.4 265.6,378.8 265,377.3 265.9,376.1 268.1,375.8 269,374.6 268.4,373Z" fill="url(#pl)"/>
<path d="M273.1,369.9 273.9,369.9 273.9,373.6 273.1,373.6Z" fill="#8cc1be"/>
<path d="M273.2,377.9 274.1,376.7 276.5,376.4 280.1,376.1 283.1,376.1 284.9,376.7 285.5,377.9 283.7,378.5 281.9,379.4 280.1,380.6 278.3,381.5 277.1,381.2 275.9,380 274.1,379.8 273.2,379.1Z" fill="url(#pl)"/>
<path d="M271.1,380 273.5,380.6 274.7,381.5 273.5,381.8 271.4,380.9Z" fill="url(#pl)"/>
<path d="M278.3,383.3 280.1,381.5 281.9,380 283.7,379.1 286.2,378.8 287.1,379.4 286.5,381.5 285.8,383.9 285.5,386.3 285.8,387.6 283.7,387.5 281.9,387.2 280.4,386 279.2,384.8Z" fill="url(#pl)"/>
<path d="M281,390.2 282.2,389 284.3,389.3 286.2,389.9 287.7,390.8 288,392.3 287.7,393.7 286.8,393.2 285.5,391.7 283.7,390.8 282.2,390.5Z" fill="#8cc1be"/>
<path d="M289.2,393.8 291,394.5 292.8,395.1 294.6,394.5 296.4,393.4 298.2,393.2 297.6,393.8 295.8,394.8 294.6,395.7 294.9,397.2 294,396.9 293.4,395.8 291.6,395.4 289.8,394.8Z" fill="#8cc1be"/>
<path d="M300,393.2 301.5,393.2 302.1,394.5 302.7,395.4 301.8,396.3 301.2,395.1 300.5,394.2Z" fill="url(#pl)"/>
<path d="M285.5,357.4 289.4,356.4 293.4,356.2 296.5,357 299.7,358.2 302.8,360 306,361.4 308.7,362.7 310.3,363.5 307.6,363.9 304.4,363.7 303.6,362.3 301.3,361.1 298.9,359.6 295.7,358.4 292.6,357.6 288.7,357.4Z" fill="#a5cecb"/>
<path d="M315.8,365.9 317.8,366.1 319,365.3 321.7,365.5 322.9,366.9 325.3,367.4 323.3,368.2 320.2,368.2 319,368.9 317.8,367.8 316.2,367.2Z" fill="#d8eaea"/>
<path d="M331,368.6 332.6,368.1 332.8,368.9 331.6,369.6Z" fill="#d8eaea"/>
<path d="M301.9,369 303.6,369 303.6,369.8 302,369.8Z" fill="#d8eaea"/>
<path d="M528.9,252.3 529.8,250.7 531.1,250.1 532.7,249.3 533.3,247.6 534.1,247.6 533.6,249.8 533,251.7 532,253.6 532.4,255.5 530.8,256.5 529.5,255.2Z" fill="#a5cecb"/>
<path d="M494.1,244 496.4,243.1 498,243.4 496.4,244.7 494.5,246 501.5,246.3 501.2,247.9 499.6,249.1 498,249.8 498.3,251.4 499.6,252.6 501.5,253.6 502.4,255.2 502.7,257.1 504.3,258.1 505.6,259.3 505.9,260.9 507.2,262.5 508.5,263.8 510.7,264.4 510.9,265.7 509.4,267 507.8,267.9 509.1,269.2 507.2,269.8 504.7,269.5 502.7,269.8 500.8,270.5 498.9,271.1 497,271.4 495.1,271.1 496.4,270.2 498.3,269.5 499.9,268.6 498.3,267.9 496.4,267.3 495.7,266 497,264.7 497.3,263.5 498.9,263.2 500.2,262.2 499.9,260.6 500.2,259 499.2,257.4 498,256.5 497,255.5 494.8,255.5 494.5,254.2 495.4,253.3 495.1,251.7 494.1,250.1 493.8,248.5 492.9,247.6 493.5,246.6Z" fill="#17807a"/>
<path d="M482,259.3 484,258.7 485.6,258.4 487.1,257.4 488.4,255.8 489.7,255.5 491,256.5 491.6,257.7 490.6,258.4 489.4,259 489.9,260.6 489.7,262.5 489.1,264.1 487.8,265.1 486.2,265.7 484.6,266 483,266.7 482,267 482.4,265.4 483.3,264.1 482.4,263.2 482,261.6Z" fill="#17807a"/>
<path d="M549.1,142.4 552.9,142.1 553.6,144.6 556.1,145.6 558.7,146.9 561.2,148.1 559.9,149.1 556.7,149.1 555.5,151 554.8,153.6 552.3,155.5 551.7,157.4 549.1,157.4 545.3,156.4 550.4,154.8 551.7,152.9 547.2,152.6 551,151.3 551.7,149.1 550.4,146.6 549.4,144.3Z" fill="url(#pg)"/>
<path d="M536.4,144.3 538.9,143.4 541.5,145 544.6,143.7 546.9,144.6 547.5,146.6 545.3,148.5 542.1,148.8 538.9,148.5 540.5,146.9 537.6,145.9Z" fill="url(#pg)"/>
<path d="M564.7,143.4 567.6,141.8 570.8,140.2 577.1,140.8 577.8,141.8 573.9,143.7 570.8,145 567.6,145Z" fill="url(#pg)"/>
<path d="M557.4,141.1 559.9,139.6 563.1,140.5 561.8,141.8 558,142.1Z" fill="url(#pg)"/>
<path d="M564.1,152.3 566.9,152.3 569.8,154.2 567.6,155.5 564.4,154.5Z" fill="url(#pg)"/>
<path d="M562.2,150.1 564.7,150.1 564.7,150.8 562.2,150.8Z" fill="url(#pg)"/>
<path d="M643.3,184.5 646.4,183.3 648.3,179.5 650.8,178.3 652.7,175.1 655.9,172.6 658.4,169.5 661.5,166.3 666.5,164.4 672.8,162.6 679.1,161.1 684.1,159.4 687.9,159.8 685.4,161.6 680.3,163.2 674.1,165.1 669,167 664,168.2 660.2,170.7 657.7,173.9 655.2,177 653.3,180.8 652.7,184.5 654.6,187.7 653.3,189.9 650.2,189.6 648.3,186.4 645.2,185.8Z" fill="#8cc1be"/>
<path d="M634.5,197.5 637,197.1 637.6,198.7 635.1,199Z" fill="#8cc1be"/>
<path d="M751.8,138.8 756.8,135 762,134.5 765.5,137.5 769.2,142 765.5,145.5 762,146.2 756.8,145 758,141.2 753,140.5Z" fill="#8cc1be"/>
<path d="M770.8,150 777,147 783.2,148.8 777,151.2 772,152.5Z" fill="#8cc1be"/>
<path d="M869,165 874.5,163.8 880.8,166.2 879.5,169.5 873.2,170 869.5,168Z" fill="#8cc1be"/>
<path d="M883.2,166.2 887,165.8 887.5,168 884,168.2Z" fill="#8cc1be"/>
<path d="M892,167.5 898.2,167.5 903.2,168.8 898.2,169.5 893.2,168.8Z" fill="#8cc1be"/>
<path d="M877.5,175 882,175.5 884,177.5 879.5,177.5Z" fill="#8cc1be"/>
<path d="M629.2,137 638,136.5 639.2,137.5 630.5,138Z" fill="#8cc1be"/>
<path d="M655.5,138.8 665.5,137 678,134.5 678.5,136 668,138 658,139.8Z" fill="#8cc1be"/>
<path d="M880.9,262.1 883.4,262.1 884,266.5 884.6,270.2 885.3,274.6 883.4,277.8 882.1,281.5 881.8,285.9 880.2,285.9 880,284 880.9,281.5 881.5,276.5 880.9,271.5 880.5,266.5Z" fill="#8cc1be"/>
<path d="M876.4,303.6 879.9,304.1 880.7,307.6 878.9,311.6 877.7,315.4 876.9,318.7 873.8,320.7 870.4,321.9 867.3,322.6 865.6,324.2 864.1,325.7 863.2,323.1 861,321.9 857.8,322.6 854.7,323.8 852.6,324.3 853.8,321.8 857.2,320.3 861,319.3 864.1,318.4 865.4,316.4 867.9,314.9 871,313.3 873.7,310.5 875.2,307.4Z" fill="#8cc1be"/>
<path d="M880.4,289.4 882.3,291.3 885.5,293.2 888.6,294.4 886.7,296.3 884.2,298.2 881.7,298.8 879.2,297.6 877.3,297.6 878.6,295.7 879.8,292.5Z" fill="#8cc1be"/>
<path d="M850,326.5 852.8,325.8 854.1,327.7 852.8,330.9 850.9,330.9 850.3,328.3Z" fill="#8cc1be"/>
<path d="M856.6,325.2 860.3,323.9 861,325.2 857.8,326.5Z" fill="#8cc1be"/>
<path d="M824.5,353.5 826.4,350.9 827.7,350.3 827.4,352.8 825.8,356 824.2,356.9Z" fill="url(#pg)"/>
<path d="M794,366.4 797.2,364.5 798.4,365.8 796.5,367.9 794.6,368.3Z" fill="url(#pl)"/>
<path d="M824.8,369.5 827.9,368.6 828.9,372.7 827.3,375.8 825.4,377.7 823.2,376.4 824.2,373.3Z" fill="#d8eaea"/>
<path d="M834.2,396.5 836.7,394 838.6,393.4 839.9,397.2 838,399.7 836.1,401.3 834.2,399Z" fill="#d8eaea"/>
<path d="M826.7,380.2 828.6,379.9 829.4,382.7 827.9,383.3Z" fill="#d8eaea"/>
<path d="M829.8,386.5 832.3,385.9 833.6,389 831.1,389.6Z" fill="#d8eaea"/>
<path d="M822.3,387.7 824.2,388.4 827.9,392.8 826.7,393.4Z" fill="#d8eaea"/>
<path d="M758.8,403.8 762,404.5 765.7,407.6 769.5,411.4 773.3,415.1 777.7,418.3 781.4,422.1 784.6,424.6 785.2,428.3 784.9,431.5 782.1,430.9 778.9,427.7 775.8,424.6 772.6,420.8 769.5,416.4 766.4,412 763.2,408.2 760.1,405.7Z" fill="url(#pl)"/>
<path d="M794.6,414.5 797.8,415.8 800.9,413.3 804,410.8 807.2,408.2 810.3,406.4 812.8,403.2 815.3,400.7 816.6,403.2 819.7,403.8 816.6,405.7 815.3,408.2 816.6,411.4 817.2,414.5 814.7,417.7 813.5,421.4 812.2,424.6 809.7,426.5 806.6,425.2 802.8,425.8 799.6,423.9 797.1,421.4 795.2,418.3Z" fill="url(#pl)"/>
<path d="M786.5,434.2 790.2,434.6 794.6,435.9 799,436.5 803.4,437.5 807.6,438.8 807.2,439.6 802.8,439.3 798.4,438.8 794,437.8 789.6,436.5 787.1,435.5Z" fill="url(#pl)"/>
<path d="M821.6,421.4 824.1,420.8 826.7,422.1 829.2,420.8 826.7,422.7 825.4,424.6 827.3,426.5 828.5,428.7 827.3,428.3 825.4,425.8 823.5,425.2 823.1,428.3 822.6,431.5 821.6,430.9 821.9,427.1 821,424.6Z" fill="url(#pl)"/>
<path d="M812.8,439.6 816.6,439.6 816.6,440.5 812.8,440.5Z" fill="#d8eaea"/>
<path d="M822.9,440.3 825.4,440.9 825.4,444 823.5,443.4Z" fill="#d8eaea"/>
<path d="M832.9,442.2 836.7,440.9 840.5,440.3 840.5,441.3 836.7,442.2 833.6,443.4Z" fill="#d8eaea"/>
<path d="M853.7,420.2 856.2,419.2 859.3,420.2 859.9,422.4 857.4,422.9 854.3,422.1Z" fill="url(#pl)"/>
<path d="M856.2,424.9 858.7,424.9 861.8,426.5 861.2,427.3 858.1,426.5Z" fill="#d8eaea"/>
<path d="M825.4,414.9 828.5,414.9 828.5,415.8 825.4,415.8Z" fill="#d8eaea"/>
<path d="M840.5,425.8 849.3,425.2 849.3,426 840.5,426.6Z" fill="#d8eaea"/>
<path d="M853.2,420 858.2,419.5 859.5,422.5 863.2,425 868.2,422.5 873.2,422.5 878.2,423.8 884.5,425.5 890.8,428.8 895.8,432.5 900.8,433.8 907,431.2 905.8,433.8 898.2,437.5 900.8,443.8 895.8,441.2 890.8,437.5 884.5,436.2 879.5,438.8 874.5,440 872,437.5 870.8,432.5 865.8,430 860.8,426.2 855.8,423.8Z" fill="url(#pl)"/>
<path d="M909.5,430 915.8,428 917,429.5 910.8,432Z" fill="#d8eaea"/>
<path d="M807,480 809.5,476.2 815.8,473.8 822,472.5 828.2,467.5 832,463.8 835.8,458.8 839.5,456.2 843.2,458.8 848.2,457.5 850.8,452.5 854.5,450 860.8,450 864.5,452.5 863.2,457.5 868.2,460 873.2,463.8 877.5,465.5 879.5,460 880.8,453.8 882,448 884.5,451.2 886.2,456.2 889.5,460 890.8,466.2 894.5,470 898.2,473.8 900.8,477.5 904.5,481.2 908.2,486.2 910,492.5 909.5,498.8 907,505 904.5,511.2 902,516.2 899,521.2 894.5,522.5 890.8,524.2 887,523 882,523.8 877.5,521.2 874.5,516.2 872,511.2 870,507.5 867,511.2 865,507.5 862,505 857,503 849.5,502.5 842,504.5 835.8,506.2 832,509.5 824.5,510.5 818.2,512 813.2,512.5 810.8,508.8 812,503.8 810,497.5 808.2,490 806.5,485Z" fill="#17807a"/>
<path d="M888.2,532.5 893.2,532 897,532.5 895.8,536.2 893.2,539.5 890,537Z" fill="#17807a"/>
<path d="M968.2,520.3 969.7,521.2 971.1,523.2 973.6,523.2 976.1,521.7 975.1,524.7 973.1,526.7 972.6,528.7 970.7,531.1 968.7,532.6 969.2,530.1 969.7,528.2 967.2,527.2 965.2,526.5 967.2,525.2 968,522.7Z" fill="#17807a"/>
<path d="M961.3,531.6 962.7,533.1 964.7,533.6 964.2,535.6 962.3,538 960.3,540 958.8,542 956.8,544.5 955.3,547.4 953.4,549.4 950.4,548.9 947.9,547.9 948.4,545.5 950.4,543 953.4,541 955.8,539.5 957.8,538.5 957.8,537.1 959.3,534.6Z" fill="#17807a"/>
<path d="M964,514.8 965.7,515 965.7,515.8 964.2,515.6Z" fill="#17807a"/>
<path d="M638.7,455 638.1,459.4 636.2,465 634.3,471.3 632.4,477.6 630.5,483.3 627.4,485.8 624.3,484.5 623,480.8 621.8,477 623,472.6 623.6,467.6 624.3,463.2 626.8,460.7 630.5,458.8 634.3,456.3 636.2,455Z" fill="#8cc1be"/>
<path d="M636.8,450.9 638.7,455.3 638.7,459 634.9,459 634.3,454Z" fill="#8cc1be"/>
<path d="M717.5,395.2 720,393.5 722,397.8 720.5,401 718,399Z" fill="url(#pl)"/>
<path d="M540.8,312.9 544,313.3 546.7,313.7 545.9,315.2 542.7,314.5Z" fill="#8cc1be"/>
<path d="M530.1,299.5 531.7,299.1 532,303.2 531.4,307 530.1,307.6 529.9,303.9Z" fill="#8cc1be"/>
<path d="M530.8,295.1 531.7,295.1 531.7,298.6 530.8,298.6Z" fill="#8cc1be"/>
<path d="M592.3,320.4 594.8,319.9 595.1,321.2 592.7,321.5Z" fill="#a5cecb"/>
<path d="M566.6,317.4 571.6,317.4 571.6,318.3 566.6,318.3Z" fill="#a5cecb"/>
<path d="M878.4,423 879.2,423 879.2,440 878.4,440Z" fill="#fff"/>
<path d="M518.7,267.7 520,265.5 521.6,263.6 524.1,262.3 526,262 526.5,264.2 525.5,266.7 524.1,269 522.2,269.6 520.3,269Z" fill="#a5cecb"/>
<path d="M536.5,253.9 538.4,253.7 538.8,255 536.8,255.3Z" fill="#a5cecb"/>
<path d="M312.2,533.8 313.8,533.8 314.1,538.2 312.5,538.2Z" fill="#fff"/>
<path d="M314.2,542.9 317.7,543.6 317.5,545.4 314.2,544.9Z" fill="#fff"/>
<path d="M312.5,562.7 314.2,563 314.6,565.5 312.7,565.2Z" fill="#fff"/>
<path d="M318.2,571.2 322.8,571.2 322.5,574.8 320,574.5Z" fill="#fff"/>
<path d="M800.3,414.9 804,413.6 807.8,412 810.3,409.5 812.2,407 813.5,403.8M772.4,400.3 772.9,401.8 771.2,402.6" fill="none" stroke="#fff" stroke-width="1.2" stroke-linejoin="round"/>
<rect x="33" y="83" width="11" height="11" fill="#c6e0e1"/><rect x="36" y="89" width="1" height="1" fill="#b4d5d6"/><rect x="40" y="89" width="1" height="1" fill="#b4d5d6"/>
<rect x="177" y="83" width="11" height="11" fill="#8cc1be"/>
<rect x="335" y="83" width="11" height="11" fill="url(#pd2)"/>
<rect x="501" y="83" width="11" height="11" fill="#17807a"/>
<rect x="665" y="83" width="11" height="11" fill="url(#pg)"/>
</svg>
<div class="lg" style="left:33px"><span>0-3 mos (0-90 days)</span></div>
<div class="lg" style="left:177px"><span>3-6 mos (91-180 days)</span></div>
<div class="lg" style="left:335px"><span>6-9 mos (181-270 days)</span></div>
<div class="lg" style="left:501px"><span>9 mos and more (271+)</span></div>
<div class="lg" style="left:665px"><span>Data not available</span></div>
<div class="src">Source: Source: International Labour Organization report: "Maternity At Work:<br>A Review of National Legislation, Second Edition" (2010)</div>
</body></html>
